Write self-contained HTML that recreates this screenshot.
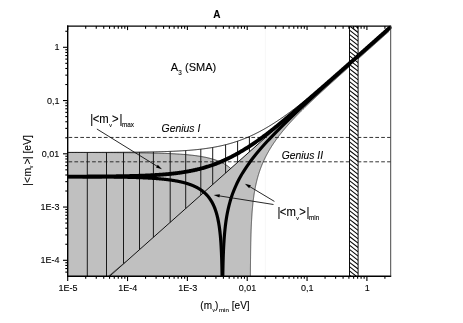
<!DOCTYPE html>
<html><head><meta charset="utf-8"><title>A</title>
<style>html,body{margin:0;padding:0;background:#fff;}body{width:463px;height:323px;overflow:hidden;font-family:"Liberation Sans",sans-serif;}svg{display:block;will-change:transform;}</style></head>
<body>
<svg width="463" height="323" viewBox="0 0 463 323">
<defs><clipPath id="pc"><rect x="67.70" y="25.10" width="324.20" height="251.20"/></clipPath><clipPath id="bc"><rect x="349.50" y="26.10" width="8.60" height="250.20"/></clipPath></defs>
<rect width="463" height="323" fill="#fff"/>
<line x1="265.3" y1="26.1" x2="265.3" y2="276.3" stroke="#f7f7f7" stroke-width="1"/>
<g clip-path="url(#pc)">
<path d="M67.70,276.30 L67.70,152.47 L67.70,152.47 L68.45,152.47 L69.20,152.48 L69.95,152.48 L70.70,152.48 L71.46,152.48 L72.21,152.48 L72.96,152.48 L73.71,152.48 L74.46,152.48 L75.21,152.48 L75.96,152.48 L76.71,152.48 L77.47,152.48 L78.22,152.49 L78.97,152.49 L79.72,152.49 L80.47,152.49 L81.22,152.49 L81.97,152.49 L82.72,152.49 L83.48,152.49 L84.23,152.49 L84.98,152.49 L85.73,152.50 L86.48,152.50 L87.23,152.50 L87.98,152.50 L88.73,152.50 L89.49,152.50 L90.24,152.50 L90.99,152.51 L91.74,152.51 L92.49,152.51 L93.24,152.51 L93.99,152.51 L94.74,152.51 L95.50,152.52 L96.25,152.52 L97.00,152.52 L97.75,152.52 L98.50,152.52 L99.25,152.53 L100.00,152.53 L100.75,152.53 L101.51,152.53 L102.26,152.54 L103.01,152.54 L103.76,152.54 L104.51,152.54 L105.26,152.55 L106.01,152.55 L106.76,152.55 L107.52,152.55 L108.27,152.56 L109.02,152.56 L109.77,152.56 L110.52,152.57 L111.27,152.57 L112.02,152.57 L112.77,152.58 L113.53,152.58 L114.28,152.58 L115.03,152.59 L115.78,152.59 L116.53,152.60 L117.28,152.60 L118.03,152.60 L118.78,152.61 L119.54,152.61 L120.29,152.62 L121.04,152.62 L121.79,152.63 L122.54,152.63 L123.29,152.64 L124.04,152.64 L124.79,152.65 L125.55,152.66 L126.30,152.66 L127.05,152.67 L127.80,152.67 L128.55,152.68 L129.30,152.69 L130.05,152.69 L130.80,152.70 L131.56,152.71 L132.31,152.72 L133.06,152.72 L133.81,152.73 L134.56,152.74 L135.31,152.75 L136.06,152.76 L136.81,152.77 L137.57,152.78 L138.32,152.79 L139.07,152.79 L139.82,152.81 L140.57,152.82 L141.32,152.83 L142.07,152.84 L142.82,152.85 L143.58,152.86 L144.33,152.87 L145.08,152.88 L145.83,152.90 L146.58,152.91 L147.33,152.92 L148.08,152.94 L148.83,152.95 L149.59,152.97 L150.34,152.98 L151.09,153.00 L151.84,153.01 L152.59,153.03 L153.34,153.05 L154.09,153.07 L154.84,153.08 L155.60,153.10 L156.35,153.12 L157.10,153.14 L157.85,153.16 L158.60,153.18 L159.35,153.21 L160.10,153.23 L160.85,153.25 L161.61,153.28 L162.36,153.30 L163.11,153.33 L163.86,153.35 L164.61,153.38 L165.36,153.41 L166.11,153.44 L166.86,153.47 L167.62,153.50 L168.37,153.53 L169.12,153.56 L169.87,153.59 L170.62,153.63 L171.37,153.66 L172.12,153.70 L172.87,153.74 L173.63,153.77 L174.38,153.81 L175.13,153.86 L175.88,153.90 L176.63,153.94 L177.38,153.99 L178.13,154.03 L178.88,154.08 L179.64,154.13 L180.39,154.18 L181.14,154.24 L181.89,154.29 L182.64,154.35 L183.39,154.40 L184.14,154.46 L184.89,154.53 L185.65,154.59 L186.40,154.65 L187.15,154.72 L187.90,154.79 L188.65,154.87 L189.40,154.94 L190.15,155.02 L190.90,155.10 L191.66,155.18 L192.41,155.26 L193.16,155.35 L193.91,155.44 L194.66,155.54 L195.41,155.63 L196.16,155.73 L196.91,155.84 L197.67,155.94 L198.42,156.06 L199.17,156.17 L199.92,156.29 L200.67,156.41 L201.42,156.54 L202.17,156.67 L202.92,156.81 L203.68,156.95 L204.43,157.09 L205.18,157.24 L205.93,157.40 L206.68,157.56 L207.43,157.73 L208.18,157.91 L208.93,158.09 L209.69,158.27 L210.44,158.47 L211.19,158.67 L211.94,158.88 L212.69,159.10 L213.44,159.33 L214.19,159.56 L214.94,159.81 L215.70,160.06 L216.45,160.33 L217.20,160.61 L217.95,160.90 L218.70,161.20 L219.45,161.51 L220.20,161.84 L220.95,162.18 L221.71,162.54 L222.46,162.91 L223.21,163.30 L223.96,163.71 L224.71,164.14 L225.46,164.59 L226.21,165.07 L226.96,165.56 L227.72,166.09 L228.47,166.64 L229.22,167.22 L229.97,167.83 L230.72,168.48 L384.88,31.30 L389.11,31.30 L388.54,31.80 L387.98,32.30 L387.42,32.80 L386.86,33.30 L386.30,33.80 L385.74,34.30 L385.17,34.80 L384.61,35.30 L384.05,35.80 L383.49,36.30 L382.93,36.80 L382.36,37.30 L381.80,37.80 L381.24,38.30 L380.68,38.80 L380.12,39.30 L379.56,39.80 L378.99,40.30 L378.43,40.80 L377.87,41.30 L377.31,41.80 L376.75,42.30 L376.19,42.80 L375.63,43.30 L375.06,43.80 L374.50,44.30 L373.94,44.80 L373.38,45.30 L372.82,45.80 L372.26,46.30 L371.69,46.80 L371.13,47.30 L370.57,47.80 L370.01,48.30 L369.45,48.80 L368.89,49.30 L368.33,49.80 L367.76,50.30 L367.20,50.80 L366.64,51.30 L366.08,51.80 L365.52,52.30 L364.96,52.80 L364.40,53.30 L363.84,53.80 L363.27,54.30 L362.71,54.80 L362.15,55.30 L361.59,55.80 L361.03,56.30 L360.47,56.80 L359.91,57.30 L359.35,57.80 L358.79,58.30 L358.22,58.80 L357.66,59.30 L357.10,59.80 L356.54,60.30 L355.98,60.80 L355.42,61.30 L354.86,61.80 L354.30,62.30 L353.74,62.80 L353.18,63.30 L352.62,63.80 L352.06,64.30 L351.50,64.80 L350.94,65.30 L350.38,65.80 L349.82,66.30 L349.26,66.80 L348.70,67.30 L348.14,67.80 L347.58,68.30 L347.02,68.80 L346.46,69.30 L345.90,69.80 L345.34,70.30 L344.78,70.80 L344.23,71.30 L343.67,71.80 L343.11,72.30 L342.55,72.80 L341.99,73.30 L341.43,73.80 L340.87,74.30 L340.32,74.80 L339.76,75.30 L339.20,75.80 L338.64,76.30 L338.09,76.80 L337.53,77.30 L336.97,77.80 L336.42,78.30 L335.86,78.80 L335.31,79.30 L334.75,79.80 L334.19,80.30 L333.64,80.80 L333.08,81.30 L332.53,81.80 L331.97,82.30 L331.42,82.80 L330.87,83.30 L330.31,83.80 L329.76,84.30 L329.21,84.80 L328.66,85.30 L328.10,85.80 L327.55,86.30 L327.00,86.80 L326.45,87.30 L325.90,87.80 L325.35,88.30 L324.80,88.80 L324.25,89.30 L323.70,89.80 L323.16,90.30 L322.61,90.80 L322.06,91.30 L321.52,91.80 L320.97,92.30 L320.43,92.80 L319.88,93.30 L319.34,93.80 L318.80,94.30 L318.26,94.80 L317.71,95.30 L317.17,95.80 L316.63,96.30 L316.10,96.80 L315.56,97.30 L315.02,97.80 L314.48,98.30 L313.95,98.80 L313.42,99.30 L312.88,99.80 L312.35,100.30 L311.82,100.80 L311.29,101.30 L310.76,101.80 L310.23,102.30 L309.71,102.80 L309.18,103.30 L308.66,103.80 L308.13,104.30 L307.61,104.80 L307.09,105.30 L306.57,105.80 L306.06,106.30 L305.54,106.80 L305.02,107.30 L304.51,107.80 L304.00,108.30 L303.49,108.80 L302.98,109.30 L302.47,109.80 L301.97,110.30 L301.46,110.80 L300.96,111.30 L300.46,111.80 L299.96,112.30 L299.47,112.80 L298.97,113.30 L298.48,113.80 L297.99,114.30 L297.50,114.80 L297.01,115.30 L296.53,115.80 L296.04,116.30 L295.56,116.80 L295.08,117.30 L294.60,117.80 L294.13,118.30 L293.66,118.80 L293.19,119.30 L292.72,119.80 L292.25,120.30 L291.79,120.80 L291.32,121.30 L290.87,121.80 L290.41,122.30 L289.95,122.80 L289.50,123.30 L289.05,123.80 L288.60,124.30 L288.16,124.80 L287.72,125.30 L287.28,125.80 L286.84,126.30 L286.40,126.80 L285.97,127.30 L285.54,127.80 L285.11,128.30 L284.69,128.80 L284.27,129.30 L283.85,129.80 L283.43,130.30 L283.02,130.80 L282.61,131.30 L282.20,131.80 L281.79,132.30 L281.39,132.80 L280.99,133.30 L280.60,133.80 L280.20,134.30 L279.81,134.80 L279.42,135.30 L279.04,135.80 L278.65,136.30 L278.28,136.80 L277.90,137.30 L277.53,137.80 L277.16,138.30 L276.79,138.80 L276.42,139.30 L276.06,139.80 L275.70,140.30 L275.35,140.80 L275.00,141.30 L274.65,141.80 L274.30,142.30 L273.96,142.80 L273.62,143.30 L273.28,143.80 L272.95,144.30 L272.62,144.80 L272.29,145.30 L271.97,145.80 L271.65,146.30 L271.33,146.80 L271.02,147.30 L270.70,147.80 L270.40,148.30 L270.09,148.80 L269.79,149.30 L269.49,149.80 L269.20,150.30 L268.90,150.80 L268.61,151.30 L268.33,151.80 L268.05,152.30 L267.77,152.80 L267.49,153.30 L267.22,153.80 L266.95,154.30 L266.68,154.80 L266.42,155.30 L266.16,155.80 L265.90,156.30 L265.64,156.80 L265.39,157.30 L265.14,157.80 L264.90,158.30 L264.66,158.80 L264.42,159.30 L264.18,159.80 L263.95,160.30 L263.72,160.80 L263.49,161.30 L263.27,161.80 L263.05,162.30 L262.83,162.80 L262.61,163.30 L262.40,163.80 L262.19,164.30 L261.98,164.80 L261.78,165.30 L261.58,165.80 L261.38,166.30 L261.19,166.80 L261.00,167.30 L260.81,167.80 L260.62,168.30 L260.44,168.80 L260.25,169.30 L260.08,169.80 L259.90,170.30 L259.73,170.80 L259.56,171.30 L259.39,171.80 L259.22,172.30 L259.06,172.80 L258.90,173.30 L258.74,173.80 L258.58,174.30 L258.43,174.80 L258.28,175.30 L258.13,175.80 L257.99,176.30 L257.84,176.80 L257.70,177.30 L257.56,177.80 L257.43,178.30 L257.29,178.80 L257.16,179.30 L257.03,179.80 L256.90,180.30 L256.78,180.80 L256.65,181.30 L256.53,181.80 L256.41,182.30 L256.30,182.80 L256.18,183.30 L256.07,183.80 L255.96,184.30 L255.85,184.80 L255.74,185.30 L255.63,185.80 L255.53,186.30 L255.43,186.80 L255.33,187.30 L255.23,187.80 L255.13,188.30 L255.04,188.80 L254.94,189.30 L254.85,189.80 L254.76,190.30 L254.67,190.80 L254.59,191.30 L254.50,191.80 L254.42,192.30 L254.34,192.80 L254.26,193.30 L254.18,193.80 L254.10,194.30 L254.02,194.80 L253.95,195.30 L253.87,195.80 L253.80,196.30 L253.73,196.80 L253.66,197.30 L253.59,197.80 L253.53,198.30 L253.46,198.80 L253.40,199.30 L253.34,199.80 L253.27,200.30 L253.21,200.80 L253.15,201.30 L253.10,201.80 L253.04,202.30 L252.98,202.80 L252.93,203.30 L252.87,203.80 L252.82,204.30 L252.77,204.80 L252.72,205.30 L252.67,205.80 L252.62,206.30 L252.57,206.80 L252.53,207.30 L252.48,207.80 L252.43,208.30 L252.39,208.80 L252.35,209.30 L252.30,209.80 L252.26,210.30 L252.22,210.80 L252.18,211.30 L252.14,211.80 L252.10,212.30 L252.07,212.80 L252.03,213.30 L251.99,213.80 L251.96,214.30 L251.92,214.80 L251.89,215.30 L251.86,215.80 L251.82,216.30 L251.79,216.80 L251.76,217.30 L251.73,217.80 L251.70,218.30 L251.67,218.80 L251.64,219.30 L251.61,219.80 L251.58,220.30 L251.56,220.80 L251.53,221.30 L251.50,221.80 L251.48,222.30 L251.45,222.80 L251.43,223.30 L251.41,223.80 L251.38,224.30 L251.36,224.80 L251.34,225.30 L251.31,225.80 L251.29,226.30 L251.27,226.80 L251.25,227.30 L251.23,227.80 L251.21,228.30 L251.19,228.80 L251.17,229.30 L251.15,229.80 L251.14,230.30 L251.12,230.80 L251.10,231.30 L251.08,231.80 L251.07,232.30 L251.05,232.80 L251.03,233.30 L251.02,233.80 L251.00,234.30 L250.99,234.80 L250.97,235.30 L250.96,235.80 L250.94,236.30 L250.93,236.80 L250.92,237.30 L250.90,237.80 L250.89,238.30 L250.88,238.80 L250.86,239.30 L250.85,239.80 L250.84,240.30 L250.83,240.80 L250.82,241.30 L250.81,241.80 L250.79,242.30 L250.78,242.80 L250.77,243.30 L250.76,243.80 L250.75,244.30 L250.74,244.80 L250.73,245.30 L250.72,245.80 L250.71,246.30 L250.70,246.80 L250.70,247.30 L250.69,247.80 L250.68,248.30 L250.67,248.80 L250.66,249.30 L250.65,249.80 L250.65,250.30 L250.64,250.80 L250.63,251.30 L250.62,251.80 L250.62,252.30 L250.61,252.80 L250.60,253.30 L250.60,253.80 L250.59,254.30 L250.58,254.80 L250.58,255.30 L250.57,255.80 L250.56,256.30 L250.56,256.80 L250.55,257.30 L250.55,257.80 L250.54,258.30 L250.54,258.80 L250.53,259.30 L250.53,259.80 L250.52,260.30 L250.51,260.80 L250.51,261.30 L250.51,261.80 L250.50,262.30 L250.50,262.80 L250.49,263.30 L250.49,263.80 L250.48,264.30 L250.48,264.80 L250.47,265.30 L250.47,265.80 L250.47,266.30 L250.46,266.80 L250.46,267.30 L250.45,267.80 L250.45,268.30 L250.45,268.80 L250.44,269.30 L250.44,269.80 L250.44,270.30 L250.43,270.80 L250.43,271.30 L250.43,271.80 L250.42,272.30 L250.42,272.80 L250.42,273.30 L250.42,273.80 L250.41,274.30 L250.41,274.80 L250.41,275.30 L250.41,275.80 L250.40,276.30 L250.40,276.30Z" fill="#c0c0c0" stroke="none"/>
<path d="M67.70,152.47 L68.45,152.47 L69.20,152.48 L69.95,152.48 L70.70,152.48 L71.46,152.48 L72.21,152.48 L72.96,152.48 L73.71,152.48 L74.46,152.48 L75.21,152.48 L75.96,152.48 L76.71,152.48 L77.47,152.48 L78.22,152.49 L78.97,152.49 L79.72,152.49 L80.47,152.49 L81.22,152.49 L81.97,152.49 L82.72,152.49 L83.48,152.49 L84.23,152.49 L84.98,152.49 L85.73,152.50 L86.48,152.50 L87.23,152.50 L87.98,152.50 L88.73,152.50 L89.49,152.50 L90.24,152.50 L90.99,152.51 L91.74,152.51 L92.49,152.51 L93.24,152.51 L93.99,152.51 L94.74,152.51 L95.50,152.52 L96.25,152.52 L97.00,152.52 L97.75,152.52 L98.50,152.52 L99.25,152.53 L100.00,152.53 L100.75,152.53 L101.51,152.53 L102.26,152.54 L103.01,152.54 L103.76,152.54 L104.51,152.54 L105.26,152.55 L106.01,152.55 L106.76,152.55 L107.52,152.55 L108.27,152.56 L109.02,152.56 L109.77,152.56 L110.52,152.57 L111.27,152.57 L112.02,152.57 L112.77,152.58 L113.53,152.58 L114.28,152.58 L115.03,152.59 L115.78,152.59 L116.53,152.60 L117.28,152.60 L118.03,152.60 L118.78,152.61 L119.54,152.61 L120.29,152.62 L121.04,152.62 L121.79,152.63 L122.54,152.63 L123.29,152.64 L124.04,152.64 L124.79,152.65 L125.55,152.66 L126.30,152.66 L127.05,152.67 L127.80,152.67 L128.55,152.68 L129.30,152.69 L130.05,152.69 L130.80,152.70 L131.56,152.71 L132.31,152.72 L133.06,152.72 L133.81,152.73 L134.56,152.74 L135.31,152.75 L136.06,152.76 L136.81,152.77 L137.57,152.78 L138.32,152.79 L139.07,152.79 L139.82,152.81 L140.57,152.82 L141.32,152.83 L142.07,152.84 L142.82,152.85 L143.58,152.86 L144.33,152.87 L145.08,152.88 L145.83,152.90 L146.58,152.91 L147.33,152.92 L148.08,152.94 L148.83,152.95 L149.59,152.97 L150.34,152.98 L151.09,153.00 L151.84,153.01 L152.59,153.03 L153.34,153.05 L154.09,153.07 L154.84,153.08 L155.60,153.10 L156.35,153.12 L157.10,153.14 L157.85,153.16 L158.60,153.18 L159.35,153.21 L160.10,153.23 L160.85,153.25 L161.61,153.28 L162.36,153.30 L163.11,153.33 L163.86,153.35 L164.61,153.38 L165.36,153.41 L166.11,153.44 L166.86,153.47 L167.62,153.50 L168.37,153.53 L169.12,153.56 L169.87,153.59 L170.62,153.63 L171.37,153.66 L172.12,153.70 L172.87,153.74 L173.63,153.77 L174.38,153.81 L175.13,153.86 L175.88,153.90 L176.63,153.94 L177.38,153.99 L178.13,154.03 L178.88,154.08 L179.64,154.13 L180.39,154.18 L181.14,154.24 L181.89,154.29 L182.64,154.35 L183.39,154.40 L184.14,154.46 L184.89,154.53 L185.65,154.59 L186.40,154.65 L187.15,154.72 L187.90,154.79 L188.65,154.87 L189.40,154.94 L190.15,155.02 L190.90,155.10 L191.66,155.18 L192.41,155.26 L193.16,155.35 L193.91,155.44 L194.66,155.54 L195.41,155.63 L196.16,155.73 L196.91,155.84 L197.67,155.94 L198.42,156.06 L199.17,156.17 L199.92,156.29 L200.67,156.41 L201.42,156.54 L202.17,156.67 L202.92,156.81 L203.68,156.95 L204.43,157.09 L205.18,157.24 L205.93,157.40 L206.68,157.56 L207.43,157.73 L208.18,157.91 L208.93,158.09 L209.69,158.27 L210.44,158.47 L211.19,158.67 L211.94,158.88 L212.69,159.10 L213.44,159.33 L214.19,159.56 L214.94,159.81 L215.70,160.06 L216.45,160.33 L217.20,160.61 L217.95,160.90 L218.70,161.20 L219.45,161.51 L220.20,161.84 L220.95,162.18 L221.71,162.54 L222.46,162.91 L223.21,163.30 L223.96,163.71 L224.71,164.14 L225.46,164.59 L226.21,165.07 L226.96,165.56 L227.72,166.09 L228.47,166.64 L229.22,167.22 L229.97,167.83 L230.72,168.48" fill="none" stroke="#222" stroke-width="0.8"/>
<path d="M250.40,276.30 L250.41,275.80 L250.41,275.30 L250.41,274.80 L250.41,274.30 L250.42,273.80 L250.42,273.30 L250.42,272.80 L250.42,272.30 L250.43,271.80 L250.43,271.30 L250.43,270.80 L250.44,270.30 L250.44,269.80 L250.44,269.30 L250.45,268.80 L250.45,268.30 L250.45,267.80 L250.46,267.30 L250.46,266.80 L250.47,266.30 L250.47,265.80 L250.47,265.30 L250.48,264.80 L250.48,264.30 L250.49,263.80 L250.49,263.30 L250.50,262.80 L250.50,262.30 L250.51,261.80 L250.51,261.30 L250.51,260.80 L250.52,260.30 L250.53,259.80 L250.53,259.30 L250.54,258.80 L250.54,258.30 L250.55,257.80 L250.55,257.30 L250.56,256.80 L250.56,256.30 L250.57,255.80 L250.58,255.30 L250.58,254.80 L250.59,254.30 L250.60,253.80 L250.60,253.30 L250.61,252.80 L250.62,252.30 L250.62,251.80 L250.63,251.30 L250.64,250.80 L250.65,250.30 L250.65,249.80 L250.66,249.30 L250.67,248.80 L250.68,248.30 L250.69,247.80 L250.70,247.30 L250.70,246.80 L250.71,246.30 L250.72,245.80 L250.73,245.30 L250.74,244.80 L250.75,244.30 L250.76,243.80 L250.77,243.30 L250.78,242.80 L250.79,242.30 L250.81,241.80 L250.82,241.30 L250.83,240.80 L250.84,240.30 L250.85,239.80 L250.86,239.30 L250.88,238.80 L250.89,238.30 L250.90,237.80 L250.92,237.30 L250.93,236.80 L250.94,236.30 L250.96,235.80 L250.97,235.30 L250.99,234.80 L251.00,234.30 L251.02,233.80 L251.03,233.30 L251.05,232.80 L251.07,232.30 L251.08,231.80 L251.10,231.30 L251.12,230.80 L251.14,230.30 L251.15,229.80 L251.17,229.30 L251.19,228.80 L251.21,228.30 L251.23,227.80 L251.25,227.30 L251.27,226.80 L251.29,226.30 L251.31,225.80 L251.34,225.30 L251.36,224.80 L251.38,224.30 L251.41,223.80 L251.43,223.30 L251.45,222.80 L251.48,222.30 L251.50,221.80 L251.53,221.30 L251.56,220.80 L251.58,220.30 L251.61,219.80 L251.64,219.30 L251.67,218.80 L251.70,218.30 L251.73,217.80 L251.76,217.30 L251.79,216.80 L251.82,216.30 L251.86,215.80 L251.89,215.30 L251.92,214.80 L251.96,214.30 L251.99,213.80 L252.03,213.30 L252.07,212.80 L252.10,212.30 L252.14,211.80 L252.18,211.30 L252.22,210.80 L252.26,210.30 L252.30,209.80 L252.35,209.30 L252.39,208.80 L252.43,208.30 L252.48,207.80 L252.53,207.30 L252.57,206.80 L252.62,206.30 L252.67,205.80 L252.72,205.30 L252.77,204.80 L252.82,204.30 L252.87,203.80 L252.93,203.30 L252.98,202.80 L253.04,202.30 L253.10,201.80 L253.15,201.30 L253.21,200.80 L253.27,200.30 L253.34,199.80 L253.40,199.30 L253.46,198.80 L253.53,198.30 L253.59,197.80 L253.66,197.30 L253.73,196.80 L253.80,196.30 L253.87,195.80 L253.95,195.30 L254.02,194.80 L254.10,194.30 L254.18,193.80 L254.26,193.30 L254.34,192.80 L254.42,192.30 L254.50,191.80 L254.59,191.30 L254.67,190.80 L254.76,190.30 L254.85,189.80 L254.94,189.30 L255.04,188.80 L255.13,188.30 L255.23,187.80 L255.33,187.30 L255.43,186.80 L255.53,186.30 L255.63,185.80 L255.74,185.30 L255.85,184.80 L255.96,184.30 L256.07,183.80 L256.18,183.30 L256.30,182.80 L256.41,182.30 L256.53,181.80 L256.65,181.30 L256.78,180.80 L256.90,180.30 L257.03,179.80 L257.16,179.30 L257.29,178.80 L257.43,178.30 L257.56,177.80 L257.70,177.30 L257.84,176.80 L257.99,176.30 L258.13,175.80 L258.28,175.30 L258.43,174.80 L258.58,174.30 L258.74,173.80 L258.90,173.30 L259.06,172.80 L259.22,172.30 L259.39,171.80 L259.56,171.30 L259.73,170.80 L259.90,170.30 L260.08,169.80 L260.25,169.30 L260.44,168.80 L260.62,168.30 L260.81,167.80 L261.00,167.30 L261.19,166.80 L261.38,166.30 L261.58,165.80 L261.78,165.30 L261.98,164.80 L262.19,164.30 L262.40,163.80 L262.61,163.30 L262.83,162.80 L263.05,162.30 L263.27,161.80 L263.49,161.30 L263.72,160.80 L263.95,160.30 L264.18,159.80 L264.42,159.30 L264.66,158.80 L264.90,158.30 L265.14,157.80 L265.39,157.30 L265.64,156.80 L265.90,156.30 L266.16,155.80 L266.42,155.30 L266.68,154.80 L266.95,154.30 L267.22,153.80 L267.49,153.30 L267.77,152.80 L268.05,152.30 L268.33,151.80 L268.61,151.30 L268.90,150.80 L269.20,150.30 L269.49,149.80 L269.79,149.30 L270.09,148.80 L270.40,148.30 L270.70,147.80 L271.02,147.30 L271.33,146.80 L271.65,146.30 L271.97,145.80 L272.29,145.30 L272.62,144.80 L272.95,144.30 L273.28,143.80 L273.62,143.30 L273.96,142.80 L274.30,142.30 L274.65,141.80 L275.00,141.30 L275.35,140.80 L275.70,140.30 L276.06,139.80 L276.42,139.30 L276.79,138.80 L277.16,138.30 L277.53,137.80 L277.90,137.30 L278.28,136.80 L278.65,136.30 L279.04,135.80 L279.42,135.30 L279.81,134.80 L280.20,134.30 L280.60,133.80 L280.99,133.30 L281.39,132.80 L281.79,132.30 L282.20,131.80 L282.61,131.30 L283.02,130.80 L283.43,130.30 L283.85,129.80 L284.27,129.30 L284.69,128.80 L285.11,128.30 L285.54,127.80 L285.97,127.30 L286.40,126.80 L286.84,126.30 L287.28,125.80 L287.72,125.30 L288.16,124.80 L288.60,124.30 L289.05,123.80 L289.50,123.30 L289.95,122.80 L290.41,122.30 L290.87,121.80 L291.32,121.30 L291.79,120.80 L292.25,120.30 L292.72,119.80 L293.19,119.30 L293.66,118.80 L294.13,118.30 L294.60,117.80 L295.08,117.30 L295.56,116.80 L296.04,116.30 L296.53,115.80 L297.01,115.30 L297.50,114.80 L297.99,114.30 L298.48,113.80 L298.97,113.30 L299.47,112.80 L299.96,112.30 L300.46,111.80 L300.96,111.30 L301.46,110.80 L301.97,110.30 L302.47,109.80 L302.98,109.30 L303.49,108.80 L304.00,108.30 L304.51,107.80 L305.02,107.30 L305.54,106.80 L306.06,106.30 L306.57,105.80 L307.09,105.30 L307.61,104.80 L308.13,104.30 L308.66,103.80 L309.18,103.30 L309.71,102.80 L310.23,102.30 L310.76,101.80 L311.29,101.30 L311.82,100.80 L312.35,100.30 L312.88,99.80 L313.42,99.30 L313.95,98.80 L314.48,98.30 L315.02,97.80 L315.56,97.30 L316.10,96.80 L316.63,96.30 L317.17,95.80 L317.71,95.30 L318.26,94.80 L318.80,94.30 L319.34,93.80 L319.88,93.30 L320.43,92.80 L320.97,92.30 L321.52,91.80 L322.06,91.30 L322.61,90.80 L323.16,90.30 L323.70,89.80 L324.25,89.30 L324.80,88.80 L325.35,88.30 L325.90,87.80 L326.45,87.30 L327.00,86.80 L327.55,86.30 L328.10,85.80 L328.66,85.30 L329.21,84.80 L329.76,84.30 L330.31,83.80 L330.87,83.30 L331.42,82.80 L331.97,82.30 L332.53,81.80 L333.08,81.30 L333.64,80.80 L334.19,80.30 L334.75,79.80 L335.31,79.30 L335.86,78.80 L336.42,78.30 L336.97,77.80 L337.53,77.30 L338.09,76.80 L338.64,76.30 L339.20,75.80 L339.76,75.30 L340.32,74.80 L340.87,74.30 L341.43,73.80 L341.99,73.30 L342.55,72.80 L343.11,72.30 L343.67,71.80 L344.23,71.30 L344.78,70.80 L345.34,70.30 L345.90,69.80 L346.46,69.30 L347.02,68.80 L347.58,68.30 L348.14,67.80 L348.70,67.30 L349.26,66.80 L349.82,66.30 L350.38,65.80 L350.94,65.30 L351.50,64.80 L352.06,64.30 L352.62,63.80 L353.18,63.30 L353.74,62.80 L354.30,62.30 L354.86,61.80 L355.42,61.30 L355.98,60.80 L356.54,60.30 L357.10,59.80 L357.66,59.30 L358.22,58.80 L358.79,58.30 L359.35,57.80 L359.91,57.30 L360.47,56.80 L361.03,56.30 L361.59,55.80 L362.15,55.30 L362.71,54.80 L363.27,54.30 L363.84,53.80 L364.40,53.30 L364.96,52.80 L365.52,52.30 L366.08,51.80 L366.64,51.30 L367.20,50.80 L367.76,50.30 L368.33,49.80 L368.89,49.30 L369.45,48.80 L370.01,48.30 L370.57,47.80 L371.13,47.30 L371.69,46.80 L372.26,46.30 L372.82,45.80 L373.38,45.30 L373.94,44.80 L374.50,44.30 L375.06,43.80 L375.63,43.30 L376.19,42.80 L376.75,42.30 L377.31,41.80 L377.87,41.30 L378.43,40.80 L378.99,40.30 L379.56,39.80 L380.12,39.30 L380.68,38.80 L381.24,38.30 L381.80,37.80 L382.36,37.30 L382.93,36.80 L383.49,36.30 L384.05,35.80 L384.61,35.30 L385.17,34.80 L385.74,34.30 L386.30,33.80 L386.86,33.30 L387.42,32.80 L387.98,32.30 L388.54,31.80 L389.11,31.30" fill="none" stroke="#333" stroke-width="0.8"/>
<line x1="87.30" y1="152.41" x2="87.30" y2="276.30" stroke="#1a1a1a" stroke-width="1"/>
<line x1="106.50" y1="152.36" x2="106.50" y2="276.30" stroke="#1a1a1a" stroke-width="1"/>
<line x1="123.50" y1="152.27" x2="123.50" y2="263.90" stroke="#1a1a1a" stroke-width="1"/>
<line x1="139.50" y1="152.12" x2="139.50" y2="249.66" stroke="#1a1a1a" stroke-width="1"/>
<line x1="153.40" y1="151.89" x2="153.40" y2="237.29" stroke="#1a1a1a" stroke-width="1"/>
<line x1="170.20" y1="151.39" x2="170.20" y2="222.34" stroke="#1a1a1a" stroke-width="1"/>
<line x1="185.70" y1="150.56" x2="185.70" y2="208.54" stroke="#1a1a1a" stroke-width="1"/>
<line x1="200.80" y1="149.17" x2="200.80" y2="195.11" stroke="#1a1a1a" stroke-width="1"/>
<line x1="212.70" y1="147.46" x2="212.70" y2="184.52" stroke="#1a1a1a" stroke-width="1"/>
<line x1="225.60" y1="144.73" x2="225.60" y2="173.04" stroke="#1a1a1a" stroke-width="1"/>
<line x1="237.60" y1="141.17" x2="237.60" y2="162.36" stroke="#1a1a1a" stroke-width="1"/>
<line x1="249.40" y1="136.54" x2="249.40" y2="151.86" stroke="#1a1a1a" stroke-width="1"/>
<path d="M67.70,152.43 L68.45,152.43 L69.20,152.43 L69.95,152.43 L70.70,152.43 L71.45,152.43 L72.20,152.43 L72.95,152.43 L73.70,152.43 L74.44,152.43 L75.19,152.42 L75.94,152.42 L76.69,152.42 L77.44,152.42 L78.19,152.42 L78.94,152.42 L79.69,152.42 L80.44,152.42 L81.19,152.42 L81.94,152.42 L82.69,152.42 L83.44,152.41 L84.19,152.41 L84.94,152.41 L85.69,152.41 L86.44,152.41 L87.19,152.41 L87.93,152.41 L88.68,152.41 L89.43,152.40 L90.18,152.40 L90.93,152.40 L91.68,152.40 L92.43,152.40 L93.18,152.40 L93.93,152.39 L94.68,152.39 L95.43,152.39 L96.18,152.39 L96.93,152.39 L97.68,152.39 L98.43,152.38 L99.18,152.38 L99.93,152.38 L100.67,152.38 L101.42,152.38 L102.17,152.37 L102.92,152.37 L103.67,152.37 L104.42,152.37 L105.17,152.36 L105.92,152.36 L106.67,152.36 L107.42,152.36 L108.17,152.35 L108.92,152.35 L109.67,152.35 L110.42,152.34 L111.17,152.34 L111.92,152.34 L112.67,152.33 L113.42,152.33 L114.16,152.33 L114.91,152.32 L115.66,152.32 L116.41,152.32 L117.16,152.31 L117.91,152.31 L118.66,152.30 L119.41,152.30 L120.16,152.29 L120.91,152.29 L121.66,152.29 L122.41,152.28 L123.16,152.28 L123.91,152.27 L124.66,152.26 L125.41,152.26 L126.16,152.25 L126.90,152.25 L127.65,152.24 L128.40,152.24 L129.15,152.23 L129.90,152.22 L130.65,152.22 L131.40,152.21 L132.15,152.20 L132.90,152.20 L133.65,152.19 L134.40,152.18 L135.15,152.17 L135.90,152.16 L136.65,152.16 L137.40,152.15 L138.15,152.14 L138.90,152.13 L139.65,152.12 L140.39,152.11 L141.14,152.10 L141.89,152.09 L142.64,152.08 L143.39,152.07 L144.14,152.06 L144.89,152.05 L145.64,152.03 L146.39,152.02 L147.14,152.01 L147.89,152.00 L148.64,151.98 L149.39,151.97 L150.14,151.96 L150.89,151.94 L151.64,151.93 L152.39,151.91 L153.13,151.90 L153.88,151.88 L154.63,151.86 L155.38,151.85 L156.13,151.83 L156.88,151.81 L157.63,151.79 L158.38,151.77 L159.13,151.75 L159.88,151.73 L160.63,151.71 L161.38,151.69 L162.13,151.67 L162.88,151.65 L163.63,151.62 L164.38,151.60 L165.13,151.58 L165.88,151.55 L166.62,151.52 L167.37,151.50 L168.12,151.47 L168.87,151.44 L169.62,151.41 L170.37,151.38 L171.12,151.35 L171.87,151.32 L172.62,151.29 L173.37,151.26 L174.12,151.22 L174.87,151.19 L175.62,151.15 L176.37,151.11 L177.12,151.08 L177.87,151.04 L178.62,151.00 L179.36,150.96 L180.11,150.91 L180.86,150.87 L181.61,150.82 L182.36,150.78 L183.11,150.73 L183.86,150.68 L184.61,150.63 L185.36,150.58 L186.11,150.53 L186.86,150.48 L187.61,150.42 L188.36,150.36 L189.11,150.31 L189.86,150.25 L190.61,150.18 L191.36,150.12 L192.11,150.06 L192.85,149.99 L193.60,149.92 L194.35,149.85 L195.10,149.78 L195.85,149.71 L196.60,149.63 L197.35,149.55 L198.10,149.47 L198.85,149.39 L199.60,149.31 L200.35,149.22 L201.10,149.13 L201.85,149.04 L202.60,148.95 L203.35,148.86 L204.10,148.76 L204.85,148.66 L205.59,148.56 L206.34,148.45 L207.09,148.34 L207.84,148.23 L208.59,148.12 L209.34,148.01 L210.09,147.89 L210.84,147.77 L211.59,147.64 L212.34,147.52 L213.09,147.39 L213.84,147.26 L214.59,147.12 L215.34,146.98 L216.09,146.84 L216.84,146.69 L217.59,146.54 L218.34,146.39 L219.08,146.24 L219.83,146.08 L220.58,145.92 L221.33,145.75 L222.08,145.58 L222.83,145.41 L223.58,145.23 L224.33,145.05 L225.08,144.86 L225.83,144.68 L226.58,144.48 L227.33,144.29 L228.08,144.09 L228.83,143.88 L229.58,143.67 L230.33,143.46 L231.08,143.24 L231.82,143.02 L232.57,142.80 L233.32,142.57 L234.07,142.33 L234.82,142.09 L235.57,141.85 L236.32,141.60 L237.07,141.35 L237.82,141.10 L238.57,140.83 L239.32,140.57 L240.07,140.30 L240.82,140.02 L241.57,139.74 L242.32,139.46 L243.07,139.17 L243.82,138.88 L244.57,138.58 L245.31,138.28 L246.06,137.97 L246.81,137.65 L247.56,137.34 L248.31,137.01 L249.06,136.69 L249.81,136.36 L250.56,136.02 L251.31,135.68 L252.06,135.33 L252.81,134.98 L253.56,134.62 L254.31,134.26 L255.06,133.90 L255.81,133.53 L256.56,133.15 L257.31,132.77 L258.05,132.39 L258.80,132.00 L259.55,131.60 L260.30,131.21 L261.05,130.80 L261.80,130.39 L262.55,129.98 L263.30,129.57 L264.05,129.14 L264.80,128.72 L265.55,128.29 L266.30,127.85 L267.05,127.42 L267.80,126.97 L268.55,126.52 L269.30,126.07 L270.05,125.62 L270.80,125.16 L271.54,124.69 L272.29,124.23 L273.04,123.75 L273.79,123.28 L274.54,122.80 L275.29,122.31 L276.04,121.83 L276.79,121.33 L277.54,120.84 L278.29,120.34 L279.04,119.84 L279.79,119.33 L280.54,118.82 L281.29,118.31 L282.04,117.79 L282.79,117.27 L283.54,116.75 L284.28,116.23 L285.03,115.70 L285.78,115.16 L286.53,114.63 L287.28,114.09 L288.03,113.55 L288.78,113.00 L289.53,112.46 L290.28,111.91 L291.03,111.35 L291.78,110.80 L292.53,110.24 L293.28,109.68 L294.03,109.12 L294.78,108.55 L295.53,107.98 L296.28,107.41 L297.03,106.84 L297.77,106.26 L298.52,105.69 L299.27,105.11 L300.02,104.52 L300.77,103.94 L301.52,103.35 L302.27,102.77 L303.02,102.18 L303.77,101.58 L304.52,100.99 L305.27,100.39 L306.02,99.80 L306.77,99.20 L307.52,98.60 L308.27,97.99 L309.02,97.39 L309.77,96.78 L310.51,96.18 L311.26,95.57 L312.01,94.96 L312.76,94.34 L313.51,93.73 L314.26,93.12 L315.01,92.50 L315.76,91.88 L316.51,91.26 L317.26,90.64 L318.01,90.02 L318.76,89.40 L319.51,88.77 L320.26,88.15 L321.01,87.52 L321.76,86.90 L322.51,86.27 L323.26,85.64 L324.00,85.01 L324.75,84.38 L325.50,83.74 L326.25,83.11 L327.00,82.48 L327.75,81.84 L328.50,81.21 L329.25,80.57 L330.00,79.93" fill="none" stroke="#111" stroke-width="0.9"/>
<path d="M109.56,276.30 L390.71,26.11" fill="none" stroke="#111" stroke-width="1"/>
<line x1="108.3" y1="276.3" x2="125.5" y2="261.9" stroke="#333" stroke-width="0.7"/>
<line x1="67.70" y1="137.45" x2="390.70" y2="137.45" stroke="#1a1a1a" stroke-width="0.88" stroke-dasharray="3.7 2.2" stroke-dashoffset="5.1"/>
<line x1="67.70" y1="161.80" x2="390.70" y2="161.80" stroke="#1a1a1a" stroke-width="0.88" stroke-dasharray="3.7 2.2" stroke-dashoffset="5.1"/>
<path d="M67.70,176.73 L67.95,176.73 L68.20,176.73 L68.45,176.73 L68.70,176.73 L68.95,176.73 L69.20,176.73 L69.45,176.73 L69.70,176.73 L69.95,176.73 L70.20,176.73 L70.45,176.74 L70.70,176.74 L70.95,176.74 L71.20,176.74 L71.45,176.74 L71.70,176.74 L71.95,176.74 L72.20,176.74 L72.45,176.74 L72.70,176.74 L72.95,176.74 L73.20,176.74 L73.45,176.74 L73.70,176.74 L73.95,176.75 L74.20,176.75 L74.45,176.75 L74.70,176.75 L74.95,176.75 L75.20,176.75 L75.45,176.75 L75.70,176.75 L75.95,176.75 L76.20,176.75 L76.45,176.75 L76.70,176.75 L76.95,176.75 L77.20,176.76 L77.45,176.76 L77.70,176.76 L77.95,176.76 L78.20,176.76 L78.45,176.76 L78.70,176.76 L78.95,176.76 L79.20,176.76 L79.45,176.76 L79.70,176.76 L79.95,176.76 L80.20,176.77 L80.45,176.77 L80.70,176.77 L80.95,176.77 L81.20,176.77 L81.45,176.77 L81.70,176.77 L81.95,176.77 L82.20,176.77 L82.45,176.77 L82.70,176.78 L82.95,176.78 L83.20,176.78 L83.45,176.78 L83.70,176.78 L83.95,176.78 L84.20,176.78 L84.45,176.78 L84.70,176.78 L84.95,176.79 L85.20,176.79 L85.45,176.79 L85.70,176.79 L85.95,176.79 L86.20,176.79 L86.45,176.79 L86.70,176.79 L86.95,176.79 L87.20,176.80 L87.45,176.80 L87.70,176.80 L87.95,176.80 L88.20,176.80 L88.45,176.80 L88.70,176.80 L88.95,176.80 L89.20,176.81 L89.45,176.81 L89.70,176.81 L89.95,176.81 L90.20,176.81 L90.45,176.81 L90.70,176.81 L90.95,176.82 L91.20,176.82 L91.45,176.82 L91.70,176.82 L91.95,176.82 L92.20,176.82 L92.45,176.82 L92.70,176.83 L92.95,176.83 L93.20,176.83 L93.45,176.83 L93.70,176.83 L93.95,176.83 L94.20,176.84 L94.45,176.84 L94.70,176.84 L94.95,176.84 L95.20,176.84 L95.45,176.84 L95.70,176.85 L95.95,176.85 L96.20,176.85 L96.45,176.85 L96.70,176.85 L96.95,176.85 L97.20,176.86 L97.45,176.86 L97.70,176.86 L97.95,176.86 L98.20,176.86 L98.45,176.87 L98.70,176.87 L98.95,176.87 L99.20,176.87 L99.45,176.87 L99.70,176.87 L99.95,176.88 L100.20,176.88 L100.45,176.88 L100.70,176.88 L100.95,176.89 L101.20,176.89 L101.45,176.89 L101.69,176.89 L101.94,176.89 L102.19,176.90 L102.44,176.90 L102.69,176.90 L102.94,176.90 L103.19,176.90 L103.44,176.91 L103.69,176.91 L103.94,176.91 L104.19,176.91 L104.44,176.92 L104.69,176.92 L104.94,176.92 L105.19,176.92 L105.44,176.93 L105.69,176.93 L105.94,176.93 L106.19,176.93 L106.44,176.94 L106.69,176.94 L106.94,176.94 L107.19,176.94 L107.44,176.95 L107.69,176.95 L107.94,176.95 L108.19,176.96 L108.44,176.96 L108.69,176.96 L108.94,176.96 L109.19,176.97 L109.44,176.97 L109.69,176.97 L109.94,176.98 L110.19,176.98 L110.44,176.98 L110.69,176.98 L110.94,176.99 L111.19,176.99 L111.44,176.99 L111.69,177.00 L111.94,177.00 L112.19,177.00 L112.44,177.01 L112.69,177.01 L112.94,177.01 L113.19,177.02 L113.44,177.02 L113.69,177.02 L113.94,177.03 L114.19,177.03 L114.44,177.03 L114.69,177.04 L114.94,177.04 L115.19,177.04 L115.44,177.05 L115.69,177.05 L115.94,177.06 L116.19,177.06 L116.44,177.06 L116.69,177.07 L116.94,177.07 L117.19,177.08 L117.44,177.08 L117.69,177.08 L117.94,177.09 L118.19,177.09 L118.44,177.10 L118.69,177.10 L118.94,177.10 L119.19,177.11 L119.44,177.11 L119.69,177.12 L119.94,177.12 L120.19,177.13 L120.44,177.13 L120.69,177.13 L120.94,177.14 L121.19,177.14 L121.44,177.15 L121.69,177.15 L121.94,177.16 L122.19,177.16 L122.44,177.17 L122.69,177.17 L122.94,177.18 L123.19,177.18 L123.44,177.19 L123.69,177.19 L123.94,177.20 L124.19,177.20 L124.44,177.21 L124.69,177.21 L124.94,177.22 L125.19,177.22 L125.44,177.23 L125.69,177.23 L125.94,177.24 L126.19,177.25 L126.44,177.25 L126.69,177.26 L126.94,177.26 L127.19,177.27 L127.44,177.27 L127.69,177.28 L127.94,177.29 L128.19,177.29 L128.44,177.30 L128.69,177.30 L128.94,177.31 L129.19,177.32 L129.44,177.32 L129.69,177.33 L129.94,177.34 L130.19,177.34 L130.44,177.35 L130.69,177.36 L130.94,177.36 L131.19,177.37 L131.44,177.38 L131.69,177.38 L131.94,177.39 L132.19,177.40 L132.44,177.40 L132.69,177.41 L132.94,177.42 L133.19,177.43 L133.44,177.43 L133.69,177.44 L133.94,177.45 L134.19,177.46 L134.44,177.46 L134.69,177.47 L134.94,177.48 L135.19,177.49 L135.44,177.50 L135.69,177.50 L135.94,177.51 L136.19,177.52 L136.44,177.53 L136.69,177.54 L136.94,177.55 L137.19,177.56 L137.44,177.56 L137.69,177.57 L137.94,177.58 L138.19,177.59 L138.44,177.60 L138.69,177.61 L138.94,177.62 L139.19,177.63 L139.44,177.64 L139.69,177.65 L139.94,177.66 L140.19,177.67 L140.44,177.68 L140.69,177.69 L140.94,177.70 L141.19,177.71 L141.44,177.72 L141.69,177.73 L141.94,177.74 L142.19,177.75 L142.44,177.76 L142.69,177.77 L142.94,177.78 L143.19,177.79 L143.44,177.80 L143.69,177.81 L143.94,177.82 L144.19,177.84 L144.44,177.85 L144.69,177.86 L144.94,177.87 L145.19,177.88 L145.44,177.90 L145.69,177.91 L145.94,177.92 L146.19,177.93 L146.44,177.94 L146.69,177.96 L146.94,177.97 L147.19,177.98 L147.44,178.00 L147.69,178.01 L147.94,178.02 L148.19,178.04 L148.44,178.05 L148.69,178.06 L148.94,178.08 L149.19,178.09 L149.44,178.11 L149.69,178.12 L149.94,178.13 L150.19,178.15 L150.44,178.16 L150.69,178.18 L150.94,178.19 L151.19,178.21 L151.44,178.22 L151.69,178.24 L151.94,178.26 L152.19,178.27 L152.44,178.29 L152.69,178.30 L152.94,178.32 L153.19,178.34 L153.44,178.35 L153.69,178.37 L153.94,178.39 L154.19,178.40 L154.44,178.42 L154.69,178.44 L154.94,178.46 L155.19,178.48 L155.44,178.49 L155.69,178.51 L155.94,178.53 L156.19,178.55 L156.44,178.57 L156.69,178.59 L156.94,178.61 L157.19,178.63 L157.44,178.65 L157.69,178.67 L157.94,178.69 L158.19,178.71 L158.44,178.73 L158.69,178.75 L158.94,178.77 L159.19,178.79 L159.44,178.81 L159.69,178.83 L159.94,178.86 L160.19,178.88 L160.44,178.90 L160.69,178.92 L160.94,178.95 L161.19,178.97 L161.44,178.99 L161.69,179.02 L161.94,179.04 L162.19,179.06 L162.44,179.09 L162.69,179.11 L162.94,179.14 L163.19,179.16 L163.44,179.19 L163.69,179.21 L163.94,179.24 L164.19,179.27 L164.44,179.29 L164.69,179.32 L164.94,179.35 L165.19,179.37 L165.44,179.40 L165.69,179.43 L165.94,179.46 L166.19,179.49 L166.44,179.52 L166.69,179.55 L166.94,179.58 L167.19,179.61 L167.44,179.64 L167.69,179.67 L167.94,179.70 L168.19,179.73 L168.44,179.76 L168.69,179.79 L168.94,179.82 L169.19,179.86 L169.43,179.89 L169.68,179.92 L169.93,179.96 L170.18,179.99 L170.43,180.03 L170.68,180.06 L170.93,180.10 L171.18,180.13 L171.43,180.17 L171.68,180.21 L171.93,180.24 L172.18,180.28 L172.43,180.32 L172.68,180.36 L172.93,180.39 L173.18,180.43 L173.43,180.47 L173.68,180.51 L173.93,180.55 L174.18,180.59 L174.43,180.64 L174.68,180.68 L174.93,180.72 L175.18,180.76 L175.43,180.81 L175.68,180.85 L175.93,180.89 L176.18,180.94 L176.43,180.98 L176.68,181.03 L176.93,181.08 L177.18,181.12 L177.43,181.17 L177.68,181.22 L177.93,181.27 L178.18,181.32 L178.43,181.37 L178.68,181.42 L178.93,181.47 L179.18,181.52 L179.43,181.57 L179.68,181.63 L179.93,181.68 L180.18,181.73 L180.43,181.79 L180.68,181.84 L180.93,181.90 L181.18,181.96 L181.43,182.01 L181.68,182.07 L181.93,182.13 L182.18,182.19 L182.43,182.25 L182.68,182.31 L182.93,182.37 L183.18,182.44 L183.43,182.50 L183.68,182.56 L183.93,182.63 L184.18,182.69 L184.43,182.76 L184.68,182.83 L184.93,182.90 L185.18,182.97 L185.43,183.04 L185.68,183.11 L185.93,183.18 L186.18,183.25 L186.43,183.33 L186.68,183.40 L186.93,183.48 L187.18,183.55 L187.43,183.63 L187.68,183.71 L187.93,183.79 L188.18,183.87 L188.43,183.95 L188.68,184.03 L188.93,184.12 L189.18,184.20 L189.43,184.29 L189.68,184.38 L189.93,184.46 L190.18,184.55 L190.43,184.65 L190.68,184.74 L190.93,184.83 L191.18,184.93 L191.43,185.02 L191.68,185.12 L191.93,185.22 L192.18,185.32 L192.43,185.42 L192.68,185.52 L192.93,185.63 L193.18,185.73 L193.43,185.84 L193.68,185.95 L193.93,186.06 L194.18,186.17 L194.43,186.29 L194.68,186.40 L194.93,186.52 L195.18,186.64 L195.43,186.76 L195.68,186.88 L195.93,187.01 L196.18,187.13 L196.43,187.26 L196.68,187.39 L196.93,187.52 L197.18,187.66 L197.43,187.79 L197.68,187.93 L197.93,188.07 L198.18,188.22 L198.43,188.36 L198.68,188.51 L198.93,188.66 L199.18,188.81 L199.43,188.97 L199.68,189.12 L199.93,189.28 L200.18,189.45 L200.43,189.61 L200.68,189.78 L200.93,189.95 L201.18,190.13 L201.43,190.30 L201.68,190.48 L201.93,190.67 L202.18,190.85 L202.43,191.04 L202.68,191.24 L202.93,191.43 L203.18,191.63 L203.43,191.84 L203.68,192.05 L203.93,192.26 L204.18,192.47 L204.43,192.70 L204.68,192.92 L204.93,193.15 L205.18,193.38 L205.43,193.62 L205.68,193.86 L205.93,194.11 L206.18,194.36 L206.43,194.62 L206.68,194.89 L206.93,195.16 L207.18,195.43 L207.43,195.71 L207.68,196.00 L207.93,196.29 L208.18,196.59 L208.43,196.90 L208.68,197.22 L208.93,197.54 L209.18,197.87 L209.43,198.21 L209.68,198.55 L209.93,198.91 L210.18,199.27 L210.43,199.65 L210.68,200.03 L210.93,200.42 L211.18,200.83 L211.43,201.24 L211.68,201.67 L211.93,202.11 L212.18,202.56 L212.43,203.03 L212.68,203.51 L212.93,204.00 L213.18,204.51 L213.43,205.04 L213.68,205.59 L213.93,206.15 L214.18,206.73 L214.43,207.34 L214.68,207.96 L214.93,208.62 L215.18,209.29 L215.43,209.99 L215.68,210.73 L215.93,211.49 L216.18,212.29 L216.43,213.12 L216.68,214.00 L216.93,214.91 L217.18,215.88 L217.43,216.89 L217.68,217.97 L217.93,219.10 L218.18,220.31 L218.43,221.60 L218.68,222.98 L218.93,224.45 L219.18,226.05 L219.43,227.78 L219.68,229.67 L219.93,231.75 L220.18,234.05 L220.43,236.64 L220.68,239.59 L220.93,243.00 L221.18,247.04 L221.43,252.00 L221.68,258.39 L221.93,267.36 L222.18,282.41 L222.23,279.30" fill="none" stroke="#000" stroke-width="3.2" stroke-linejoin="round"/>
<path d="M222.75,279.30 L222.76,278.80 L222.77,278.30 L222.77,277.80 L222.78,277.30 L222.79,276.80 L222.79,276.30 L222.80,275.80 L222.81,275.30 L222.82,274.80 L222.83,274.30 L222.83,273.80 L222.84,273.30 L222.85,272.80 L222.86,272.30 L222.87,271.80 L222.88,271.30 L222.89,270.80 L222.90,270.30 L222.91,269.80 L222.92,269.30 L222.93,268.80 L222.94,268.30 L222.95,267.80 L222.96,267.30 L222.97,266.80 L222.98,266.30 L222.99,265.80 L223.00,265.30 L223.02,264.80 L223.03,264.30 L223.04,263.80 L223.05,263.30 L223.07,262.80 L223.08,262.30 L223.09,261.80 L223.11,261.30 L223.12,260.80 L223.14,260.30 L223.15,259.80 L223.17,259.30 L223.18,258.80 L223.20,258.30 L223.21,257.80 L223.23,257.30 L223.25,256.80 L223.26,256.30 L223.28,255.80 L223.30,255.30 L223.32,254.80 L223.34,254.30 L223.36,253.80 L223.38,253.30 L223.40,252.80 L223.42,252.30 L223.44,251.80 L223.46,251.30 L223.48,250.80 L223.50,250.30 L223.52,249.80 L223.55,249.30 L223.57,248.80 L223.60,248.30 L223.62,247.80 L223.64,247.30 L223.67,246.80 L223.70,246.30 L223.72,245.80 L223.75,245.30 L223.78,244.80 L223.81,244.30 L223.84,243.80 L223.86,243.30 L223.90,242.80 L223.93,242.30 L223.96,241.80 L223.99,241.30 L224.02,240.80 L224.06,240.30 L224.09,239.80 L224.12,239.30 L224.16,238.80 L224.20,238.30 L224.23,237.80 L224.27,237.30 L224.31,236.80 L224.35,236.30 L224.39,235.80 L224.43,235.30 L224.47,234.80 L224.51,234.30 L224.56,233.80 L224.60,233.30 L224.65,232.80 L224.69,232.30 L224.74,231.80 L224.79,231.30 L224.84,230.80 L224.89,230.30 L224.94,229.80 L224.99,229.30 L225.04,228.80 L225.09,228.30 L225.15,227.80 L225.21,227.30 L225.26,226.80 L225.32,226.30 L225.38,225.80 L225.44,225.30 L225.50,224.80 L225.57,224.30 L225.63,223.80 L225.70,223.30 L225.76,222.80 L225.83,222.30 L225.90,221.80 L225.97,221.30 L226.04,220.80 L226.11,220.30 L226.19,219.80 L226.27,219.30 L226.34,218.80 L226.42,218.30 L226.50,217.80 L226.58,217.30 L226.67,216.80 L226.75,216.30 L226.84,215.80 L226.93,215.30 L227.02,214.80 L227.11,214.30 L227.20,213.80 L227.30,213.30 L227.39,212.80 L227.49,212.30 L227.59,211.80 L227.69,211.30 L227.80,210.80 L227.90,210.30 L228.01,209.80 L228.12,209.30 L228.23,208.80 L228.34,208.30 L228.46,207.80 L228.58,207.30 L228.69,206.80 L228.82,206.30 L228.94,205.80 L229.06,205.30 L229.19,204.80 L229.32,204.30 L229.45,203.80 L229.59,203.30 L229.72,202.80 L229.86,202.30 L230.00,201.80 L230.14,201.30 L230.29,200.80 L230.44,200.30 L230.59,199.80 L230.74,199.30 L230.89,198.80 L231.05,198.30 L231.21,197.80 L231.37,197.30 L231.54,196.80 L231.70,196.30 L231.87,195.80 L232.05,195.30 L232.22,194.80 L232.40,194.30 L232.58,193.80 L232.76,193.30 L232.95,192.80 L233.13,192.30 L233.33,191.80 L233.52,191.30 L233.72,190.80 L233.91,190.30 L234.12,189.80 L234.32,189.30 L234.53,188.80 L234.74,188.30 L234.95,187.80 L235.17,187.30 L235.39,186.80 L235.61,186.30 L235.83,185.80 L236.06,185.30 L236.29,184.80 L236.53,184.30 L236.76,183.80 L237.00,183.30 L237.24,182.80 L237.49,182.30 L237.74,181.80 L237.99,181.30 L238.24,180.80 L238.50,180.30 L238.76,179.80 L239.02,179.30 L239.29,178.80 L239.56,178.30 L239.83,177.80 L240.11,177.30 L240.39,176.80 L240.67,176.30 L240.95,175.80 L241.24,175.30 L241.53,174.80 L241.83,174.30 L242.12,173.80 L242.42,173.30 L242.73,172.80 L243.03,172.30 L243.34,171.80 L243.65,171.30 L243.97,170.80 L244.28,170.30 L244.61,169.80 L244.93,169.30 L245.26,168.80 L245.59,168.30 L245.92,167.80 L246.25,167.30 L246.59,166.80 L246.93,166.30 L247.28,165.80 L247.63,165.30 L247.98,164.80 L248.33,164.30 L248.68,163.80 L249.04,163.30 L249.40,162.80 L249.77,162.30 L250.14,161.80 L250.51,161.30 L250.88,160.80 L251.25,160.30 L251.63,159.80 L252.01,159.30 L252.39,158.80 L252.78,158.30 L253.17,157.80 L253.56,157.30 L253.95,156.80 L254.35,156.30 L254.75,155.80 L255.15,155.30 L255.55,154.80 L255.96,154.30 L256.37,153.80 L256.78,153.30 L257.19,152.80 L257.60,152.30 L258.02,151.80 L258.44,151.30 L258.86,150.80 L259.29,150.30 L259.72,149.80 L260.15,149.30 L260.58,148.80 L261.01,148.30 L261.45,147.80 L261.88,147.30 L262.32,146.80 L262.76,146.30 L263.21,145.80 L263.65,145.30 L264.10,144.80 L264.55,144.30 L265.00,143.80 L265.46,143.30 L265.91,142.80 L266.37,142.30 L266.83,141.80 L267.29,141.30 L267.75,140.80 L268.22,140.30 L268.68,139.80 L269.15,139.30 L269.62,138.80 L270.09,138.30 L270.56,137.80 L271.04,137.30 L271.51,136.80 L271.99,136.30 L272.47,135.80 L272.95,135.30 L273.43,134.80 L273.92,134.30 L274.40,133.80 L274.89,133.30 L275.38,132.80 L275.87,132.30 L276.36,131.80 L276.85,131.30 L277.34,130.80 L277.84,130.30 L278.33,129.80 L278.83,129.30 L279.33,128.80 L279.83,128.30 L280.33,127.80 L280.83,127.30 L281.33,126.80 L281.84,126.30 L282.34,125.80 L282.85,125.30 L283.36,124.80 L283.87,124.30 L284.37,123.80 L284.89,123.30 L285.40,122.80 L285.91,122.30 L286.42,121.80 L286.94,121.30 L287.45,120.80 L287.97,120.30 L288.49,119.80 L289.00,119.30 L289.52,118.80 L290.04,118.30 L290.56,117.80 L291.08,117.30 L291.61,116.80 L292.13,116.30 L292.65,115.80 L293.18,115.30 L293.70,114.80 L294.23,114.30 L294.76,113.80 L295.28,113.30 L295.81,112.80 L296.34,112.30 L296.87,111.80 L297.40,111.30 L297.93,110.80 L298.46,110.30 L298.99,109.80 L299.53,109.30 L300.06,108.80 L300.59,108.30 L301.13,107.80 L301.66,107.30 L302.20,106.80 L302.74,106.30 L303.27,105.80 L303.81,105.30 L304.35,104.80 L304.88,104.30 L305.42,103.80 L305.96,103.30 L306.50,102.80 L307.04,102.30 L307.58,101.80 L308.12,101.30 L308.66,100.80 L309.21,100.30 L309.75,99.80 L310.29,99.30 L310.83,98.80 L311.38,98.30 L311.92,97.80 L312.46,97.30 L313.01,96.80 L313.55,96.30 L314.10,95.80 L314.64,95.30 L315.19,94.80 L315.74,94.30 L316.28,93.80 L316.83,93.30 L317.38,92.80 L317.92,92.30 L318.47,91.80 L319.02,91.30 L319.57,90.80 L320.12,90.30 L320.67,89.80 L321.22,89.30 L321.77,88.80 L322.31,88.30 L322.86,87.80 L323.42,87.30 L323.97,86.80 L324.52,86.30 L325.07,85.80 L325.62,85.30 L326.17,84.80 L326.72,84.30 L327.27,83.80 L327.83,83.30 L328.38,82.80 L328.93,82.30 L329.48,81.80 L330.04,81.30 L330.59,80.80 L331.14,80.30 L331.69,79.80 L332.25,79.30 L332.80,78.80 L333.36,78.30 L333.91,77.80 L334.46,77.30 L335.02,76.80 L335.57,76.30 L336.13,75.80 L336.68,75.30 L337.24,74.80 L337.79,74.30 L338.35,73.80 L338.90,73.30 L339.46,72.80 L340.02,72.30 L340.57,71.80 L341.13,71.30 L341.68,70.80 L342.24,70.30 L342.80,69.80 L343.35,69.30 L343.91,68.80 L344.47,68.30 L345.02,67.80 L345.58,67.30 L346.14,66.80 L346.69,66.30 L347.25,65.80 L347.81,65.30 L348.37,64.80 L348.92,64.30 L349.48,63.80 L350.04,63.30 L350.60,62.80 L351.15,62.30 L351.71,61.80 L352.27,61.30 L352.83,60.80 L353.39,60.30 L353.94,59.80 L354.50,59.30 L355.06,58.80 L355.62,58.30 L356.18,57.80 L356.74,57.30 L357.30,56.80 L357.85,56.30 L358.41,55.80 L358.97,55.30 L359.53,54.80 L360.09,54.30 L360.65,53.80 L361.21,53.30 L361.77,52.80 L362.33,52.30 L362.89,51.80 L363.45,51.30 L364.00,50.80 L364.56,50.30 L365.12,49.80 L365.68,49.30 L366.24,48.80 L366.80,48.30 L367.36,47.80 L367.92,47.30 L368.48,46.80 L369.04,46.30 L369.60,45.80 L370.16,45.30 L370.72,44.80 L371.28,44.30 L371.84,43.80 L372.40,43.30 L372.96,42.80 L373.52,42.30 L374.08,41.80 L374.64,41.30 L375.20,40.80 L375.76,40.30 L376.32,39.80 L376.88,39.30 L377.44,38.80 L378.01,38.30 L378.57,37.80 L379.13,37.30 L379.69,36.80 L380.25,36.30 L380.81,35.80 L381.37,35.30 L381.93,34.80 L382.49,34.30 L383.05,33.80 L383.61,33.30 L384.17,32.80 L384.73,32.30 L385.29,31.80 L385.85,31.30 L386.42,30.80 L386.98,30.30 L387.54,29.80 L388.10,29.30 L388.66,28.80 L389.22,28.30" fill="none" stroke="#000" stroke-width="3.15" stroke-linejoin="round" stroke-linecap="round"/>
<path d="M67.70,176.61 L68.45,176.61 L69.20,176.61 L69.95,176.61 L70.70,176.60 L71.45,176.60 L72.20,176.60 L72.95,176.60 L73.70,176.60 L74.46,176.59 L75.21,176.59 L75.96,176.59 L76.71,176.59 L77.46,176.58 L78.21,176.58 L78.96,176.58 L79.71,176.58 L80.46,176.57 L81.21,176.57 L81.96,176.57 L82.71,176.57 L83.46,176.56 L84.21,176.56 L84.96,176.56 L85.71,176.55 L86.46,176.55 L87.22,176.55 L87.97,176.54 L88.72,176.54 L89.47,176.54 L90.22,176.53 L90.97,176.53 L91.72,176.52 L92.47,176.52 L93.22,176.51 L93.97,176.51 L94.72,176.51 L95.47,176.50 L96.22,176.50 L96.97,176.49 L97.72,176.49 L98.47,176.48 L99.22,176.47 L99.98,176.47 L100.73,176.46 L101.48,176.46 L102.23,176.45 L102.98,176.44 L103.73,176.44 L104.48,176.43 L105.23,176.42 L105.98,176.42 L106.73,176.41 L107.48,176.40 L108.23,176.40 L108.98,176.39 L109.73,176.38 L110.48,176.37 L111.23,176.36 L111.98,176.35 L112.73,176.34 L113.49,176.33 L114.24,176.32 L114.99,176.31 L115.74,176.30 L116.49,176.29 L117.24,176.28 L117.99,176.27 L118.74,176.26 L119.49,176.25 L120.24,176.24 L120.99,176.22 L121.74,176.21 L122.49,176.20 L123.24,176.18 L123.99,176.17 L124.74,176.16 L125.49,176.14 L126.25,176.12 L127.00,176.11 L127.75,176.09 L128.50,176.08 L129.25,176.06 L130.00,176.04 L130.75,176.02 L131.50,176.00 L132.25,175.99 L133.00,175.97 L133.75,175.95 L134.50,175.92 L135.25,175.90 L136.00,175.88 L136.75,175.86 L137.50,175.84 L138.25,175.81 L139.01,175.79 L139.76,175.76 L140.51,175.74 L141.26,175.71 L142.01,175.68 L142.76,175.65 L143.51,175.62 L144.26,175.59 L145.01,175.56 L145.76,175.53 L146.51,175.50 L147.26,175.47 L148.01,175.43 L148.76,175.40 L149.51,175.36 L150.26,175.32 L151.01,175.28 L151.77,175.24 L152.52,175.20 L153.27,175.16 L154.02,175.12 L154.77,175.08 L155.52,175.03 L156.27,174.99 L157.02,174.94 L157.77,174.89 L158.52,174.84 L159.27,174.79 L160.02,174.73 L160.77,174.68 L161.52,174.62 L162.27,174.57 L163.02,174.51 L163.77,174.45 L164.53,174.39 L165.28,174.32 L166.03,174.26 L166.78,174.19 L167.53,174.12 L168.28,174.05 L169.03,173.98 L169.78,173.90 L170.53,173.83 L171.28,173.75 L172.03,173.67 L172.78,173.59 L173.53,173.50 L174.28,173.42 L175.03,173.33 L175.78,173.24 L176.53,173.14 L177.29,173.05 L178.04,172.95 L178.79,172.85 L179.54,172.75 L180.29,172.64 L181.04,172.53 L181.79,172.42 L182.54,172.31 L183.29,172.19 L184.04,172.07 L184.79,171.95 L185.54,171.83 L186.29,171.70 L187.04,171.57 L187.79,171.43 L188.54,171.30 L189.29,171.16 L190.04,171.01 L190.80,170.87 L191.55,170.72 L192.30,170.56 L193.05,170.41 L193.80,170.25 L194.55,170.08 L195.30,169.92 L196.05,169.75 L196.80,169.57 L197.55,169.39 L198.30,169.21 L199.05,169.02 L199.80,168.83 L200.55,168.64 L201.30,168.44 L202.05,168.24 L202.80,168.03 L203.56,167.82 L204.31,167.61 L205.06,167.39 L205.81,167.17 L206.56,166.94 L207.31,166.71 L208.06,166.47 L208.81,166.23 L209.56,165.99 L210.31,165.74 L211.06,165.49 L211.81,165.23 L212.56,164.96 L213.31,164.70 L214.06,164.42 L214.81,164.15 L215.56,163.87 L216.32,163.58 L217.07,163.29 L217.82,162.99 L218.57,162.69 L219.32,162.39 L220.07,162.08 L220.82,161.76 L221.57,161.44 L222.32,161.12 L223.07,160.79 L223.82,160.45 L224.57,160.11 L225.32,159.77 L226.07,159.42 L226.82,159.07 L227.57,158.71 L228.32,158.35 L229.08,157.98 L229.83,157.61 L230.58,157.23 L231.33,156.85 L232.08,156.46 L232.83,156.07 L233.58,155.67 L234.33,155.27 L235.08,154.87 L235.83,154.46 L236.58,154.04 L237.33,153.62 L238.08,153.20 L238.83,152.77 L239.58,152.34 L240.33,151.90 L241.08,151.46 L241.84,151.02 L242.59,150.57 L243.34,150.11 L244.09,149.65 L244.84,149.19 L245.59,148.72 L246.34,148.25 L247.09,147.78 L247.84,147.30 L248.59,146.82 L249.34,146.33 L250.09,145.84 L250.84,145.35 L251.59,144.85 L252.34,144.35 L253.09,143.85 L253.84,143.34 L254.60,142.83 L255.35,142.31 L256.10,141.79 L256.85,141.27 L257.60,140.75 L258.35,140.22 L259.10,139.69 L259.85,139.15 L260.60,138.61 L261.35,138.07 L262.10,137.52 L262.85,136.97 L263.60,136.41 L264.35,135.85 L265.10,135.29 L265.85,134.73 L266.60,134.16 L267.36,133.59 L268.11,133.01 L268.86,132.43 L269.61,131.85 L270.36,131.27 L271.11,130.68 L271.86,130.09 L272.61,129.50 L273.36,128.91 L274.11,128.31 L274.86,127.71 L275.61,127.11 L276.36,126.50 L277.11,125.90 L277.86,125.29 L278.61,124.67 L279.36,124.06 L280.11,123.45 L280.87,122.83 L281.62,122.21 L282.37,121.59 L283.12,120.96 L283.87,120.34 L284.62,119.71 L285.37,119.08 L286.12,118.45 L286.87,117.82 L287.62,117.19 L288.37,116.56 L289.12,115.92 L289.87,115.29 L290.62,114.65 L291.37,114.01 L292.12,113.37 L292.87,112.73 L293.63,112.09 L294.38,111.45 L295.13,110.80 L295.88,110.16 L296.63,109.52 L297.38,108.87 L298.13,108.22 L298.88,107.58 L299.63,106.93 L300.38,106.28 L301.13,105.64 L301.88,104.99 L302.63,104.34 L303.38,103.69 L304.13,103.05 L304.88,102.40 L305.63,101.75 L306.39,101.10 L307.14,100.45 L307.89,99.80 L308.64,99.15 L309.39,98.51 L310.14,97.86 L310.89,97.21 L311.64,96.56 L312.39,95.92 L313.14,95.27 L313.89,94.62 L314.64,93.97 L315.39,93.32 L316.14,92.67 L316.89,92.02 L317.64,91.37 L318.39,90.72 L319.15,90.07 L319.90,89.41 L320.65,88.76 L321.40,88.11 L322.15,87.45 L322.90,86.80 L323.65,86.15 L324.40,85.49 L325.15,84.84 L325.90,84.18 L326.65,83.52 L327.40,82.87 L328.15,82.21 L328.90,81.56 L329.65,80.90 L330.40,80.24 L331.15,79.58 L331.91,78.92 L332.66,78.27 L333.41,77.61 L334.16,76.95 L334.91,76.29 L335.66,75.63 L336.41,74.97 L337.16,74.31 L337.91,73.65 L338.66,72.99 L339.41,72.33 L340.16,71.67 L340.91,71.01 L341.66,70.35 L342.41,69.69 L343.16,69.02 L343.91,68.36 L344.67,67.70 L345.42,67.04 L346.17,66.38 L346.92,65.71 L347.67,65.05 L348.42,64.39 L349.17,63.73 L349.92,63.06 L350.67,62.40 L351.42,61.74 L352.17,61.07 L352.92,60.41 L353.67,59.75 L354.42,59.08 L355.17,58.42 L355.92,57.76 L356.67,57.09 L357.42,56.43 L358.18,55.76 L358.93,55.10 L359.68,54.43 L360.43,53.77 L361.18,53.11 L361.93,52.44 L362.68,51.78 L363.43,51.11 L364.18,50.45 L364.93,49.78 L365.68,49.12 L366.43,48.45 L367.18,47.78 L367.93,47.12 L368.68,46.45 L369.43,45.79 L370.18,45.12 L370.94,44.46 L371.69,43.79 L372.44,43.13 L373.19,42.46 L373.94,41.79 L374.69,41.13 L375.44,40.46 L376.19,39.80 L376.94,39.13 L377.69,38.46 L378.44,37.80 L379.19,37.13 L379.94,36.46 L380.69,35.80 L381.44,35.13 L382.19,34.46 L382.94,33.80 L383.70,33.13 L384.45,32.46 L385.20,31.80 L385.95,31.13 L386.70,30.46 L387.45,29.80 L388.20,29.13 L388.95,28.46 L389.70,27.80" fill="none" stroke="#000" stroke-width="3.85" stroke-linejoin="round" stroke-linecap="round"/>
</g>
<rect x="349.50" y="26.10" width="8.60" height="250.20" fill="#fff"/>
<g clip-path="url(#bc)" stroke="#000" stroke-width="1.05"><line x1="349.50" y1="17.20" x2="358.10" y2="23.91"/><line x1="349.50" y1="21.50" x2="358.10" y2="28.21"/><line x1="349.50" y1="25.80" x2="358.10" y2="32.51"/><line x1="349.50" y1="30.10" x2="358.10" y2="36.81"/><line x1="349.50" y1="34.40" x2="358.10" y2="41.11"/><line x1="349.50" y1="38.70" x2="358.10" y2="45.41"/><line x1="349.50" y1="43.00" x2="358.10" y2="49.71"/><line x1="349.50" y1="47.30" x2="358.10" y2="54.01"/><line x1="349.50" y1="51.60" x2="358.10" y2="58.31"/><line x1="349.50" y1="55.90" x2="358.10" y2="62.61"/><line x1="349.50" y1="60.20" x2="358.10" y2="66.91"/><line x1="349.50" y1="64.50" x2="358.10" y2="71.21"/><line x1="349.50" y1="68.80" x2="358.10" y2="75.51"/><line x1="349.50" y1="73.10" x2="358.10" y2="79.81"/><line x1="349.50" y1="77.40" x2="358.10" y2="84.11"/><line x1="349.50" y1="81.70" x2="358.10" y2="88.41"/><line x1="349.50" y1="86.00" x2="358.10" y2="92.71"/><line x1="349.50" y1="90.30" x2="358.10" y2="97.01"/><line x1="349.50" y1="94.60" x2="358.10" y2="101.31"/><line x1="349.50" y1="98.90" x2="358.10" y2="105.61"/><line x1="349.50" y1="103.20" x2="358.10" y2="109.91"/><line x1="349.50" y1="107.50" x2="358.10" y2="114.21"/><line x1="349.50" y1="111.80" x2="358.10" y2="118.51"/><line x1="349.50" y1="116.10" x2="358.10" y2="122.81"/><line x1="349.50" y1="120.40" x2="358.10" y2="127.11"/><line x1="349.50" y1="124.70" x2="358.10" y2="131.41"/><line x1="349.50" y1="129.00" x2="358.10" y2="135.71"/><line x1="349.50" y1="133.30" x2="358.10" y2="140.01"/><line x1="349.50" y1="137.60" x2="358.10" y2="144.31"/><line x1="349.50" y1="141.90" x2="358.10" y2="148.61"/><line x1="349.50" y1="146.20" x2="358.10" y2="152.91"/><line x1="349.50" y1="150.50" x2="358.10" y2="157.21"/><line x1="349.50" y1="154.80" x2="358.10" y2="161.51"/><line x1="349.50" y1="159.10" x2="358.10" y2="165.81"/><line x1="349.50" y1="163.40" x2="358.10" y2="170.11"/><line x1="349.50" y1="167.70" x2="358.10" y2="174.41"/><line x1="349.50" y1="172.00" x2="358.10" y2="178.71"/><line x1="349.50" y1="176.30" x2="358.10" y2="183.01"/><line x1="349.50" y1="180.60" x2="358.10" y2="187.31"/><line x1="349.50" y1="184.90" x2="358.10" y2="191.61"/><line x1="349.50" y1="189.20" x2="358.10" y2="195.91"/><line x1="349.50" y1="193.50" x2="358.10" y2="200.21"/><line x1="349.50" y1="197.80" x2="358.10" y2="204.51"/><line x1="349.50" y1="202.10" x2="358.10" y2="208.81"/><line x1="349.50" y1="206.40" x2="358.10" y2="213.11"/><line x1="349.50" y1="210.70" x2="358.10" y2="217.41"/><line x1="349.50" y1="215.00" x2="358.10" y2="221.71"/><line x1="349.50" y1="219.30" x2="358.10" y2="226.01"/><line x1="349.50" y1="223.60" x2="358.10" y2="230.31"/><line x1="349.50" y1="227.90" x2="358.10" y2="234.61"/><line x1="349.50" y1="232.20" x2="358.10" y2="238.91"/><line x1="349.50" y1="236.50" x2="358.10" y2="243.21"/><line x1="349.50" y1="240.80" x2="358.10" y2="247.51"/><line x1="349.50" y1="245.10" x2="358.10" y2="251.81"/><line x1="349.50" y1="249.40" x2="358.10" y2="256.11"/><line x1="349.50" y1="253.70" x2="358.10" y2="260.41"/><line x1="349.50" y1="258.00" x2="358.10" y2="264.71"/><line x1="349.50" y1="262.30" x2="358.10" y2="269.01"/><line x1="349.50" y1="266.60" x2="358.10" y2="273.31"/><line x1="349.50" y1="270.90" x2="358.10" y2="277.61"/><line x1="349.50" y1="275.20" x2="358.10" y2="281.91"/><line x1="349.50" y1="279.50" x2="358.10" y2="286.21"/></g>
<g clip-path="url(#bc)"><path d="M67.70,176.61 L68.45,176.61 L69.20,176.61 L69.95,176.61 L70.70,176.60 L71.45,176.60 L72.20,176.60 L72.95,176.60 L73.70,176.60 L74.46,176.59 L75.21,176.59 L75.96,176.59 L76.71,176.59 L77.46,176.58 L78.21,176.58 L78.96,176.58 L79.71,176.58 L80.46,176.57 L81.21,176.57 L81.96,176.57 L82.71,176.57 L83.46,176.56 L84.21,176.56 L84.96,176.56 L85.71,176.55 L86.46,176.55 L87.22,176.55 L87.97,176.54 L88.72,176.54 L89.47,176.54 L90.22,176.53 L90.97,176.53 L91.72,176.52 L92.47,176.52 L93.22,176.51 L93.97,176.51 L94.72,176.51 L95.47,176.50 L96.22,176.50 L96.97,176.49 L97.72,176.49 L98.47,176.48 L99.22,176.47 L99.98,176.47 L100.73,176.46 L101.48,176.46 L102.23,176.45 L102.98,176.44 L103.73,176.44 L104.48,176.43 L105.23,176.42 L105.98,176.42 L106.73,176.41 L107.48,176.40 L108.23,176.40 L108.98,176.39 L109.73,176.38 L110.48,176.37 L111.23,176.36 L111.98,176.35 L112.73,176.34 L113.49,176.33 L114.24,176.32 L114.99,176.31 L115.74,176.30 L116.49,176.29 L117.24,176.28 L117.99,176.27 L118.74,176.26 L119.49,176.25 L120.24,176.24 L120.99,176.22 L121.74,176.21 L122.49,176.20 L123.24,176.18 L123.99,176.17 L124.74,176.16 L125.49,176.14 L126.25,176.12 L127.00,176.11 L127.75,176.09 L128.50,176.08 L129.25,176.06 L130.00,176.04 L130.75,176.02 L131.50,176.00 L132.25,175.99 L133.00,175.97 L133.75,175.95 L134.50,175.92 L135.25,175.90 L136.00,175.88 L136.75,175.86 L137.50,175.84 L138.25,175.81 L139.01,175.79 L139.76,175.76 L140.51,175.74 L141.26,175.71 L142.01,175.68 L142.76,175.65 L143.51,175.62 L144.26,175.59 L145.01,175.56 L145.76,175.53 L146.51,175.50 L147.26,175.47 L148.01,175.43 L148.76,175.40 L149.51,175.36 L150.26,175.32 L151.01,175.28 L151.77,175.24 L152.52,175.20 L153.27,175.16 L154.02,175.12 L154.77,175.08 L155.52,175.03 L156.27,174.99 L157.02,174.94 L157.77,174.89 L158.52,174.84 L159.27,174.79 L160.02,174.73 L160.77,174.68 L161.52,174.62 L162.27,174.57 L163.02,174.51 L163.77,174.45 L164.53,174.39 L165.28,174.32 L166.03,174.26 L166.78,174.19 L167.53,174.12 L168.28,174.05 L169.03,173.98 L169.78,173.90 L170.53,173.83 L171.28,173.75 L172.03,173.67 L172.78,173.59 L173.53,173.50 L174.28,173.42 L175.03,173.33 L175.78,173.24 L176.53,173.14 L177.29,173.05 L178.04,172.95 L178.79,172.85 L179.54,172.75 L180.29,172.64 L181.04,172.53 L181.79,172.42 L182.54,172.31 L183.29,172.19 L184.04,172.07 L184.79,171.95 L185.54,171.83 L186.29,171.70 L187.04,171.57 L187.79,171.43 L188.54,171.30 L189.29,171.16 L190.04,171.01 L190.80,170.87 L191.55,170.72 L192.30,170.56 L193.05,170.41 L193.80,170.25 L194.55,170.08 L195.30,169.92 L196.05,169.75 L196.80,169.57 L197.55,169.39 L198.30,169.21 L199.05,169.02 L199.80,168.83 L200.55,168.64 L201.30,168.44 L202.05,168.24 L202.80,168.03 L203.56,167.82 L204.31,167.61 L205.06,167.39 L205.81,167.17 L206.56,166.94 L207.31,166.71 L208.06,166.47 L208.81,166.23 L209.56,165.99 L210.31,165.74 L211.06,165.49 L211.81,165.23 L212.56,164.96 L213.31,164.70 L214.06,164.42 L214.81,164.15 L215.56,163.87 L216.32,163.58 L217.07,163.29 L217.82,162.99 L218.57,162.69 L219.32,162.39 L220.07,162.08 L220.82,161.76 L221.57,161.44 L222.32,161.12 L223.07,160.79 L223.82,160.45 L224.57,160.11 L225.32,159.77 L226.07,159.42 L226.82,159.07 L227.57,158.71 L228.32,158.35 L229.08,157.98 L229.83,157.61 L230.58,157.23 L231.33,156.85 L232.08,156.46 L232.83,156.07 L233.58,155.67 L234.33,155.27 L235.08,154.87 L235.83,154.46 L236.58,154.04 L237.33,153.62 L238.08,153.20 L238.83,152.77 L239.58,152.34 L240.33,151.90 L241.08,151.46 L241.84,151.02 L242.59,150.57 L243.34,150.11 L244.09,149.65 L244.84,149.19 L245.59,148.72 L246.34,148.25 L247.09,147.78 L247.84,147.30 L248.59,146.82 L249.34,146.33 L250.09,145.84 L250.84,145.35 L251.59,144.85 L252.34,144.35 L253.09,143.85 L253.84,143.34 L254.60,142.83 L255.35,142.31 L256.10,141.79 L256.85,141.27 L257.60,140.75 L258.35,140.22 L259.10,139.69 L259.85,139.15 L260.60,138.61 L261.35,138.07 L262.10,137.52 L262.85,136.97 L263.60,136.41 L264.35,135.85 L265.10,135.29 L265.85,134.73 L266.60,134.16 L267.36,133.59 L268.11,133.01 L268.86,132.43 L269.61,131.85 L270.36,131.27 L271.11,130.68 L271.86,130.09 L272.61,129.50 L273.36,128.91 L274.11,128.31 L274.86,127.71 L275.61,127.11 L276.36,126.50 L277.11,125.90 L277.86,125.29 L278.61,124.67 L279.36,124.06 L280.11,123.45 L280.87,122.83 L281.62,122.21 L282.37,121.59 L283.12,120.96 L283.87,120.34 L284.62,119.71 L285.37,119.08 L286.12,118.45 L286.87,117.82 L287.62,117.19 L288.37,116.56 L289.12,115.92 L289.87,115.29 L290.62,114.65 L291.37,114.01 L292.12,113.37 L292.87,112.73 L293.63,112.09 L294.38,111.45 L295.13,110.80 L295.88,110.16 L296.63,109.52 L297.38,108.87 L298.13,108.22 L298.88,107.58 L299.63,106.93 L300.38,106.28 L301.13,105.64 L301.88,104.99 L302.63,104.34 L303.38,103.69 L304.13,103.05 L304.88,102.40 L305.63,101.75 L306.39,101.10 L307.14,100.45 L307.89,99.80 L308.64,99.15 L309.39,98.51 L310.14,97.86 L310.89,97.21 L311.64,96.56 L312.39,95.92 L313.14,95.27 L313.89,94.62 L314.64,93.97 L315.39,93.32 L316.14,92.67 L316.89,92.02 L317.64,91.37 L318.39,90.72 L319.15,90.07 L319.90,89.41 L320.65,88.76 L321.40,88.11 L322.15,87.45 L322.90,86.80 L323.65,86.15 L324.40,85.49 L325.15,84.84 L325.90,84.18 L326.65,83.52 L327.40,82.87 L328.15,82.21 L328.90,81.56 L329.65,80.90 L330.40,80.24 L331.15,79.58 L331.91,78.92 L332.66,78.27 L333.41,77.61 L334.16,76.95 L334.91,76.29 L335.66,75.63 L336.41,74.97 L337.16,74.31 L337.91,73.65 L338.66,72.99 L339.41,72.33 L340.16,71.67 L340.91,71.01 L341.66,70.35 L342.41,69.69 L343.16,69.02 L343.91,68.36 L344.67,67.70 L345.42,67.04 L346.17,66.38 L346.92,65.71 L347.67,65.05 L348.42,64.39 L349.17,63.73 L349.92,63.06 L350.67,62.40 L351.42,61.74 L352.17,61.07 L352.92,60.41 L353.67,59.75 L354.42,59.08 L355.17,58.42 L355.92,57.76 L356.67,57.09 L357.42,56.43 L358.18,55.76 L358.93,55.10 L359.68,54.43 L360.43,53.77 L361.18,53.11 L361.93,52.44 L362.68,51.78 L363.43,51.11 L364.18,50.45 L364.93,49.78 L365.68,49.12 L366.43,48.45 L367.18,47.78 L367.93,47.12 L368.68,46.45 L369.43,45.79 L370.18,45.12 L370.94,44.46 L371.69,43.79 L372.44,43.13 L373.19,42.46 L373.94,41.79 L374.69,41.13 L375.44,40.46 L376.19,39.80 L376.94,39.13 L377.69,38.46 L378.44,37.80 L379.19,37.13 L379.94,36.46 L380.69,35.80 L381.44,35.13 L382.19,34.46 L382.94,33.80 L383.70,33.13 L384.45,32.46 L385.20,31.80 L385.95,31.13 L386.70,30.46 L387.45,29.80 L388.20,29.13 L388.95,28.46 L389.70,27.80" fill="none" stroke="#000" stroke-width="3.7"/><path d="M222.75,279.30 L222.76,278.80 L222.77,278.30 L222.77,277.80 L222.78,277.30 L222.79,276.80 L222.79,276.30 L222.80,275.80 L222.81,275.30 L222.82,274.80 L222.83,274.30 L222.83,273.80 L222.84,273.30 L222.85,272.80 L222.86,272.30 L222.87,271.80 L222.88,271.30 L222.89,270.80 L222.90,270.30 L222.91,269.80 L222.92,269.30 L222.93,268.80 L222.94,268.30 L222.95,267.80 L222.96,267.30 L222.97,266.80 L222.98,266.30 L222.99,265.80 L223.00,265.30 L223.02,264.80 L223.03,264.30 L223.04,263.80 L223.05,263.30 L223.07,262.80 L223.08,262.30 L223.09,261.80 L223.11,261.30 L223.12,260.80 L223.14,260.30 L223.15,259.80 L223.17,259.30 L223.18,258.80 L223.20,258.30 L223.21,257.80 L223.23,257.30 L223.25,256.80 L223.26,256.30 L223.28,255.80 L223.30,255.30 L223.32,254.80 L223.34,254.30 L223.36,253.80 L223.38,253.30 L223.40,252.80 L223.42,252.30 L223.44,251.80 L223.46,251.30 L223.48,250.80 L223.50,250.30 L223.52,249.80 L223.55,249.30 L223.57,248.80 L223.60,248.30 L223.62,247.80 L223.64,247.30 L223.67,246.80 L223.70,246.30 L223.72,245.80 L223.75,245.30 L223.78,244.80 L223.81,244.30 L223.84,243.80 L223.86,243.30 L223.90,242.80 L223.93,242.30 L223.96,241.80 L223.99,241.30 L224.02,240.80 L224.06,240.30 L224.09,239.80 L224.12,239.30 L224.16,238.80 L224.20,238.30 L224.23,237.80 L224.27,237.30 L224.31,236.80 L224.35,236.30 L224.39,235.80 L224.43,235.30 L224.47,234.80 L224.51,234.30 L224.56,233.80 L224.60,233.30 L224.65,232.80 L224.69,232.30 L224.74,231.80 L224.79,231.30 L224.84,230.80 L224.89,230.30 L224.94,229.80 L224.99,229.30 L225.04,228.80 L225.09,228.30 L225.15,227.80 L225.21,227.30 L225.26,226.80 L225.32,226.30 L225.38,225.80 L225.44,225.30 L225.50,224.80 L225.57,224.30 L225.63,223.80 L225.70,223.30 L225.76,222.80 L225.83,222.30 L225.90,221.80 L225.97,221.30 L226.04,220.80 L226.11,220.30 L226.19,219.80 L226.27,219.30 L226.34,218.80 L226.42,218.30 L226.50,217.80 L226.58,217.30 L226.67,216.80 L226.75,216.30 L226.84,215.80 L226.93,215.30 L227.02,214.80 L227.11,214.30 L227.20,213.80 L227.30,213.30 L227.39,212.80 L227.49,212.30 L227.59,211.80 L227.69,211.30 L227.80,210.80 L227.90,210.30 L228.01,209.80 L228.12,209.30 L228.23,208.80 L228.34,208.30 L228.46,207.80 L228.58,207.30 L228.69,206.80 L228.82,206.30 L228.94,205.80 L229.06,205.30 L229.19,204.80 L229.32,204.30 L229.45,203.80 L229.59,203.30 L229.72,202.80 L229.86,202.30 L230.00,201.80 L230.14,201.30 L230.29,200.80 L230.44,200.30 L230.59,199.80 L230.74,199.30 L230.89,198.80 L231.05,198.30 L231.21,197.80 L231.37,197.30 L231.54,196.80 L231.70,196.30 L231.87,195.80 L232.05,195.30 L232.22,194.80 L232.40,194.30 L232.58,193.80 L232.76,193.30 L232.95,192.80 L233.13,192.30 L233.33,191.80 L233.52,191.30 L233.72,190.80 L233.91,190.30 L234.12,189.80 L234.32,189.30 L234.53,188.80 L234.74,188.30 L234.95,187.80 L235.17,187.30 L235.39,186.80 L235.61,186.30 L235.83,185.80 L236.06,185.30 L236.29,184.80 L236.53,184.30 L236.76,183.80 L237.00,183.30 L237.24,182.80 L237.49,182.30 L237.74,181.80 L237.99,181.30 L238.24,180.80 L238.50,180.30 L238.76,179.80 L239.02,179.30 L239.29,178.80 L239.56,178.30 L239.83,177.80 L240.11,177.30 L240.39,176.80 L240.67,176.30 L240.95,175.80 L241.24,175.30 L241.53,174.80 L241.83,174.30 L242.12,173.80 L242.42,173.30 L242.73,172.80 L243.03,172.30 L243.34,171.80 L243.65,171.30 L243.97,170.80 L244.28,170.30 L244.61,169.80 L244.93,169.30 L245.26,168.80 L245.59,168.30 L245.92,167.80 L246.25,167.30 L246.59,166.80 L246.93,166.30 L247.28,165.80 L247.63,165.30 L247.98,164.80 L248.33,164.30 L248.68,163.80 L249.04,163.30 L249.40,162.80 L249.77,162.30 L250.14,161.80 L250.51,161.30 L250.88,160.80 L251.25,160.30 L251.63,159.80 L252.01,159.30 L252.39,158.80 L252.78,158.30 L253.17,157.80 L253.56,157.30 L253.95,156.80 L254.35,156.30 L254.75,155.80 L255.15,155.30 L255.55,154.80 L255.96,154.30 L256.37,153.80 L256.78,153.30 L257.19,152.80 L257.60,152.30 L258.02,151.80 L258.44,151.30 L258.86,150.80 L259.29,150.30 L259.72,149.80 L260.15,149.30 L260.58,148.80 L261.01,148.30 L261.45,147.80 L261.88,147.30 L262.32,146.80 L262.76,146.30 L263.21,145.80 L263.65,145.30 L264.10,144.80 L264.55,144.30 L265.00,143.80 L265.46,143.30 L265.91,142.80 L266.37,142.30 L266.83,141.80 L267.29,141.30 L267.75,140.80 L268.22,140.30 L268.68,139.80 L269.15,139.30 L269.62,138.80 L270.09,138.30 L270.56,137.80 L271.04,137.30 L271.51,136.80 L271.99,136.30 L272.47,135.80 L272.95,135.30 L273.43,134.80 L273.92,134.30 L274.40,133.80 L274.89,133.30 L275.38,132.80 L275.87,132.30 L276.36,131.80 L276.85,131.30 L277.34,130.80 L277.84,130.30 L278.33,129.80 L278.83,129.30 L279.33,128.80 L279.83,128.30 L280.33,127.80 L280.83,127.30 L281.33,126.80 L281.84,126.30 L282.34,125.80 L282.85,125.30 L283.36,124.80 L283.87,124.30 L284.37,123.80 L284.89,123.30 L285.40,122.80 L285.91,122.30 L286.42,121.80 L286.94,121.30 L287.45,120.80 L287.97,120.30 L288.49,119.80 L289.00,119.30 L289.52,118.80 L290.04,118.30 L290.56,117.80 L291.08,117.30 L291.61,116.80 L292.13,116.30 L292.65,115.80 L293.18,115.30 L293.70,114.80 L294.23,114.30 L294.76,113.80 L295.28,113.30 L295.81,112.80 L296.34,112.30 L296.87,111.80 L297.40,111.30 L297.93,110.80 L298.46,110.30 L298.99,109.80 L299.53,109.30 L300.06,108.80 L300.59,108.30 L301.13,107.80 L301.66,107.30 L302.20,106.80 L302.74,106.30 L303.27,105.80 L303.81,105.30 L304.35,104.80 L304.88,104.30 L305.42,103.80 L305.96,103.30 L306.50,102.80 L307.04,102.30 L307.58,101.80 L308.12,101.30 L308.66,100.80 L309.21,100.30 L309.75,99.80 L310.29,99.30 L310.83,98.80 L311.38,98.30 L311.92,97.80 L312.46,97.30 L313.01,96.80 L313.55,96.30 L314.10,95.80 L314.64,95.30 L315.19,94.80 L315.74,94.30 L316.28,93.80 L316.83,93.30 L317.38,92.80 L317.92,92.30 L318.47,91.80 L319.02,91.30 L319.57,90.80 L320.12,90.30 L320.67,89.80 L321.22,89.30 L321.77,88.80 L322.31,88.30 L322.86,87.80 L323.42,87.30 L323.97,86.80 L324.52,86.30 L325.07,85.80 L325.62,85.30 L326.17,84.80 L326.72,84.30 L327.27,83.80 L327.83,83.30 L328.38,82.80 L328.93,82.30 L329.48,81.80 L330.04,81.30 L330.59,80.80 L331.14,80.30 L331.69,79.80 L332.25,79.30 L332.80,78.80 L333.36,78.30 L333.91,77.80 L334.46,77.30 L335.02,76.80 L335.57,76.30 L336.13,75.80 L336.68,75.30 L337.24,74.80 L337.79,74.30 L338.35,73.80 L338.90,73.30 L339.46,72.80 L340.02,72.30 L340.57,71.80 L341.13,71.30 L341.68,70.80 L342.24,70.30 L342.80,69.80 L343.35,69.30 L343.91,68.80 L344.47,68.30 L345.02,67.80 L345.58,67.30 L346.14,66.80 L346.69,66.30 L347.25,65.80 L347.81,65.30 L348.37,64.80 L348.92,64.30 L349.48,63.80 L350.04,63.30 L350.60,62.80 L351.15,62.30 L351.71,61.80 L352.27,61.30 L352.83,60.80 L353.39,60.30 L353.94,59.80 L354.50,59.30 L355.06,58.80 L355.62,58.30 L356.18,57.80 L356.74,57.30 L357.30,56.80 L357.85,56.30 L358.41,55.80 L358.97,55.30 L359.53,54.80 L360.09,54.30 L360.65,53.80 L361.21,53.30 L361.77,52.80 L362.33,52.30 L362.89,51.80 L363.45,51.30 L364.00,50.80 L364.56,50.30 L365.12,49.80 L365.68,49.30 L366.24,48.80 L366.80,48.30 L367.36,47.80 L367.92,47.30 L368.48,46.80 L369.04,46.30 L369.60,45.80 L370.16,45.30 L370.72,44.80 L371.28,44.30 L371.84,43.80 L372.40,43.30 L372.96,42.80 L373.52,42.30 L374.08,41.80 L374.64,41.30 L375.20,40.80 L375.76,40.30 L376.32,39.80 L376.88,39.30 L377.44,38.80 L378.01,38.30 L378.57,37.80 L379.13,37.30 L379.69,36.80 L380.25,36.30 L380.81,35.80 L381.37,35.30 L381.93,34.80 L382.49,34.30 L383.05,33.80 L383.61,33.30 L384.17,32.80 L384.73,32.30 L385.29,31.80 L385.85,31.30 L386.42,30.80 L386.98,30.30 L387.54,29.80 L388.10,29.30 L388.66,28.80 L389.22,28.30" fill="none" stroke="#000" stroke-width="3.15"/></g>
<line x1="349.50" y1="26.10" x2="349.50" y2="276.30" stroke="#000" stroke-width="0.95"/>
<line x1="358.10" y1="26.10" x2="358.10" y2="276.30" stroke="#000" stroke-width="0.95"/>
<g stroke="#000" stroke-width="1.4" fill="none">
<line x1="67.70" y1="25.40" x2="67.70" y2="277.00"/>
<line x1="67.00" y1="276.30" x2="391.20" y2="276.30"/>
<line x1="67.00" y1="26.10" x2="391.20" y2="26.10"/>
</g>
<line x1="390.70" y1="26.10" x2="390.70" y2="276.30" stroke="#333" stroke-width="0.9"/>
<g stroke="#000" stroke-width="1.1"><line x1="65.30" y1="272.11" x2="67.70" y2="272.11"/>
<line x1="65.30" y1="268.55" x2="67.70" y2="268.55"/>
<line x1="65.30" y1="265.46" x2="67.70" y2="265.46"/>
<line x1="65.30" y1="262.74" x2="67.70" y2="262.74"/>
<line x1="63.00" y1="260.30" x2="67.70" y2="260.30"/>
<line x1="65.30" y1="244.27" x2="67.70" y2="244.27"/>
<line x1="65.30" y1="234.89" x2="67.70" y2="234.89"/>
<line x1="65.30" y1="228.24" x2="67.70" y2="228.24"/>
<line x1="65.30" y1="223.08" x2="67.70" y2="223.08"/>
<line x1="65.30" y1="218.86" x2="67.70" y2="218.86"/>
<line x1="65.30" y1="215.30" x2="67.70" y2="215.30"/>
<line x1="65.30" y1="212.21" x2="67.70" y2="212.21"/>
<line x1="65.30" y1="209.49" x2="67.70" y2="209.49"/>
<line x1="63.00" y1="207.05" x2="67.70" y2="207.05"/>
<line x1="65.30" y1="191.02" x2="67.70" y2="191.02"/>
<line x1="65.30" y1="181.64" x2="67.70" y2="181.64"/>
<line x1="65.30" y1="174.99" x2="67.70" y2="174.99"/>
<line x1="65.30" y1="169.83" x2="67.70" y2="169.83"/>
<line x1="65.30" y1="165.61" x2="67.70" y2="165.61"/>
<line x1="65.30" y1="162.05" x2="67.70" y2="162.05"/>
<line x1="65.30" y1="158.96" x2="67.70" y2="158.96"/>
<line x1="65.30" y1="156.24" x2="67.70" y2="156.24"/>
<line x1="63.00" y1="153.80" x2="67.70" y2="153.80"/>
<line x1="65.30" y1="137.77" x2="67.70" y2="137.77"/>
<line x1="65.30" y1="128.39" x2="67.70" y2="128.39"/>
<line x1="65.30" y1="121.74" x2="67.70" y2="121.74"/>
<line x1="65.30" y1="116.58" x2="67.70" y2="116.58"/>
<line x1="65.30" y1="112.36" x2="67.70" y2="112.36"/>
<line x1="65.30" y1="108.80" x2="67.70" y2="108.80"/>
<line x1="65.30" y1="105.71" x2="67.70" y2="105.71"/>
<line x1="65.30" y1="102.99" x2="67.70" y2="102.99"/>
<line x1="63.00" y1="100.55" x2="67.70" y2="100.55"/>
<line x1="65.30" y1="84.52" x2="67.70" y2="84.52"/>
<line x1="65.30" y1="75.14" x2="67.70" y2="75.14"/>
<line x1="65.30" y1="68.49" x2="67.70" y2="68.49"/>
<line x1="65.30" y1="63.33" x2="67.70" y2="63.33"/>
<line x1="65.30" y1="59.11" x2="67.70" y2="59.11"/>
<line x1="65.30" y1="55.55" x2="67.70" y2="55.55"/>
<line x1="65.30" y1="52.46" x2="67.70" y2="52.46"/>
<line x1="65.30" y1="49.74" x2="67.70" y2="49.74"/>
<line x1="63.00" y1="47.30" x2="67.70" y2="47.30"/>
<line x1="65.30" y1="31.27" x2="67.70" y2="31.27"/>
<line x1="67.70" y1="276.30" x2="67.70" y2="281.10"/>
<line x1="67.70" y1="26.10" x2="67.70" y2="30.10"/>
<line x1="85.71" y1="276.30" x2="85.71" y2="278.80"/>
<line x1="85.71" y1="26.10" x2="85.71" y2="28.80"/>
<line x1="96.25" y1="276.30" x2="96.25" y2="278.80"/>
<line x1="96.25" y1="26.10" x2="96.25" y2="28.80"/>
<line x1="103.73" y1="276.30" x2="103.73" y2="278.80"/>
<line x1="103.73" y1="26.10" x2="103.73" y2="28.80"/>
<line x1="109.53" y1="276.30" x2="109.53" y2="278.80"/>
<line x1="109.53" y1="26.10" x2="109.53" y2="28.80"/>
<line x1="114.26" y1="276.30" x2="114.26" y2="278.80"/>
<line x1="114.26" y1="26.10" x2="114.26" y2="28.80"/>
<line x1="118.27" y1="276.30" x2="118.27" y2="278.80"/>
<line x1="118.27" y1="26.10" x2="118.27" y2="28.80"/>
<line x1="121.74" y1="276.30" x2="121.74" y2="278.80"/>
<line x1="121.74" y1="26.10" x2="121.74" y2="28.80"/>
<line x1="124.80" y1="276.30" x2="124.80" y2="278.80"/>
<line x1="124.80" y1="26.10" x2="124.80" y2="28.80"/>
<line x1="127.54" y1="276.30" x2="127.54" y2="281.10"/>
<line x1="127.54" y1="26.10" x2="127.54" y2="30.10"/>
<line x1="145.55" y1="276.30" x2="145.55" y2="278.80"/>
<line x1="145.55" y1="26.10" x2="145.55" y2="28.80"/>
<line x1="156.09" y1="276.30" x2="156.09" y2="278.80"/>
<line x1="156.09" y1="26.10" x2="156.09" y2="28.80"/>
<line x1="163.57" y1="276.30" x2="163.57" y2="278.80"/>
<line x1="163.57" y1="26.10" x2="163.57" y2="28.80"/>
<line x1="169.37" y1="276.30" x2="169.37" y2="278.80"/>
<line x1="169.37" y1="26.10" x2="169.37" y2="28.80"/>
<line x1="174.10" y1="276.30" x2="174.10" y2="278.80"/>
<line x1="174.10" y1="26.10" x2="174.10" y2="28.80"/>
<line x1="178.11" y1="276.30" x2="178.11" y2="278.80"/>
<line x1="178.11" y1="26.10" x2="178.11" y2="28.80"/>
<line x1="181.58" y1="276.30" x2="181.58" y2="278.80"/>
<line x1="181.58" y1="26.10" x2="181.58" y2="28.80"/>
<line x1="184.64" y1="276.30" x2="184.64" y2="278.80"/>
<line x1="184.64" y1="26.10" x2="184.64" y2="28.80"/>
<line x1="187.38" y1="276.30" x2="187.38" y2="281.10"/>
<line x1="187.38" y1="26.10" x2="187.38" y2="30.10"/>
<line x1="205.39" y1="276.30" x2="205.39" y2="278.80"/>
<line x1="205.39" y1="26.10" x2="205.39" y2="28.80"/>
<line x1="215.93" y1="276.30" x2="215.93" y2="278.80"/>
<line x1="215.93" y1="26.10" x2="215.93" y2="28.80"/>
<line x1="223.41" y1="276.30" x2="223.41" y2="278.80"/>
<line x1="223.41" y1="26.10" x2="223.41" y2="28.80"/>
<line x1="229.21" y1="276.30" x2="229.21" y2="278.80"/>
<line x1="229.21" y1="26.10" x2="229.21" y2="28.80"/>
<line x1="233.94" y1="276.30" x2="233.94" y2="278.80"/>
<line x1="233.94" y1="26.10" x2="233.94" y2="28.80"/>
<line x1="237.95" y1="276.30" x2="237.95" y2="278.80"/>
<line x1="237.95" y1="26.10" x2="237.95" y2="28.80"/>
<line x1="241.42" y1="276.30" x2="241.42" y2="278.80"/>
<line x1="241.42" y1="26.10" x2="241.42" y2="28.80"/>
<line x1="244.48" y1="276.30" x2="244.48" y2="278.80"/>
<line x1="244.48" y1="26.10" x2="244.48" y2="28.80"/>
<line x1="247.22" y1="276.30" x2="247.22" y2="281.10"/>
<line x1="247.22" y1="26.10" x2="247.22" y2="30.10"/>
<line x1="265.23" y1="276.30" x2="265.23" y2="278.80"/>
<line x1="265.23" y1="26.10" x2="265.23" y2="28.80"/>
<line x1="275.77" y1="276.30" x2="275.77" y2="278.80"/>
<line x1="275.77" y1="26.10" x2="275.77" y2="28.80"/>
<line x1="283.25" y1="276.30" x2="283.25" y2="278.80"/>
<line x1="283.25" y1="26.10" x2="283.25" y2="28.80"/>
<line x1="289.05" y1="276.30" x2="289.05" y2="278.80"/>
<line x1="289.05" y1="26.10" x2="289.05" y2="28.80"/>
<line x1="293.78" y1="276.30" x2="293.78" y2="278.80"/>
<line x1="293.78" y1="26.10" x2="293.78" y2="28.80"/>
<line x1="297.79" y1="276.30" x2="297.79" y2="278.80"/>
<line x1="297.79" y1="26.10" x2="297.79" y2="28.80"/>
<line x1="301.26" y1="276.30" x2="301.26" y2="278.80"/>
<line x1="301.26" y1="26.10" x2="301.26" y2="28.80"/>
<line x1="304.32" y1="276.30" x2="304.32" y2="278.80"/>
<line x1="304.32" y1="26.10" x2="304.32" y2="28.80"/>
<line x1="307.06" y1="276.30" x2="307.06" y2="281.10"/>
<line x1="307.06" y1="26.10" x2="307.06" y2="30.10"/>
<line x1="325.07" y1="276.30" x2="325.07" y2="278.80"/>
<line x1="325.07" y1="26.10" x2="325.07" y2="28.80"/>
<line x1="335.61" y1="276.30" x2="335.61" y2="278.80"/>
<line x1="335.61" y1="26.10" x2="335.61" y2="28.80"/>
<line x1="343.09" y1="276.30" x2="343.09" y2="278.80"/>
<line x1="343.09" y1="26.10" x2="343.09" y2="28.80"/>
<line x1="348.89" y1="276.30" x2="348.89" y2="278.80"/>
<line x1="348.89" y1="26.10" x2="348.89" y2="28.80"/>
<line x1="353.62" y1="276.30" x2="353.62" y2="278.80"/>
<line x1="353.62" y1="26.10" x2="353.62" y2="28.80"/>
<line x1="357.63" y1="276.30" x2="357.63" y2="278.80"/>
<line x1="357.63" y1="26.10" x2="357.63" y2="28.80"/>
<line x1="361.10" y1="276.30" x2="361.10" y2="278.80"/>
<line x1="361.10" y1="26.10" x2="361.10" y2="28.80"/>
<line x1="364.16" y1="276.30" x2="364.16" y2="278.80"/>
<line x1="364.16" y1="26.10" x2="364.16" y2="28.80"/>
<line x1="366.90" y1="276.30" x2="366.90" y2="281.10"/>
<line x1="366.90" y1="26.10" x2="366.90" y2="30.10"/>
<line x1="384.91" y1="276.30" x2="384.91" y2="278.80"/>
<line x1="384.91" y1="26.10" x2="384.91" y2="28.80"/></g>
<line x1="96.90" y1="129.00" x2="157.75" y2="166.67" stroke="#111" stroke-width="0.9"/><polygon points="162.00,169.30 156.00,167.59 157.79,164.70" fill="#000"/>
<line x1="274.40" y1="201.40" x2="249.19" y2="186.27" stroke="#111" stroke-width="0.9"/><polygon points="244.90,183.70 250.92,185.33 249.17,188.24" fill="#000"/>
<line x1="273.50" y1="204.50" x2="218.64" y2="195.78" stroke="#111" stroke-width="0.9"/><polygon points="213.70,195.00 219.89,194.26 219.36,197.62" fill="#000"/>
<g font-family="Liberation Sans, sans-serif" fill="#000" stroke="#000" stroke-width="0.1">
<text x="59.4" y="50.25" font-size="9" text-anchor="end">1</text>
<text x="59.4" y="103.50" font-size="9" text-anchor="end">0,1</text>
<text x="59.4" y="156.75" font-size="9" text-anchor="end">0,01</text>
<text x="59.4" y="210.00" font-size="9" text-anchor="end">1E-3</text>
<text x="59.4" y="263.25" font-size="9" text-anchor="end">1E-4</text>
<text x="68.00" y="290.7" font-size="9" text-anchor="middle">1E-5</text>
<text x="127.84" y="290.7" font-size="9" text-anchor="middle">1E-4</text>
<text x="187.68" y="290.7" font-size="9" text-anchor="middle">1E-3</text>
<text x="247.52" y="290.7" font-size="9" text-anchor="middle">0,01</text>
<text x="307.36" y="290.7" font-size="9" text-anchor="middle">0,1</text>
<text x="367.20" y="290.7" font-size="9" text-anchor="middle">1</text>
<text x="216.8" y="17.8" font-size="10" font-weight="bold" text-anchor="middle">A</text>
<text x="170.8" y="70.9" font-size="11">A</text><text x="178.2" y="74.8" font-size="6.3">3</text><text x="185.0" y="70.9" font-size="11">(SMA)</text>
<g transform="translate(90.30,123.20) scale(1,1.06)"><text x="0" y="0" font-size="11.3">|</text><text x="2.45" y="0" font-size="11.3">&lt;m</text><text x="18.9" y="3.3" font-size="5.4">v</text><text x="21.8" y="0" font-size="11.3">&gt;</text><text x="29.2" y="0" font-size="11.3">|</text><text x="31.6" y="3.3" font-size="6.4">max</text></g>
<g transform="translate(277.40,216.00) scale(1,1.06)"><text x="0" y="0" font-size="11.3">|</text><text x="2.45" y="0" font-size="11.3">&lt;m</text><text x="18.9" y="3.3" font-size="5.4">v</text><text x="21.8" y="0" font-size="11.3">&gt;</text><text x="29.2" y="0" font-size="11.3">|</text><text x="31.6" y="3.3" font-size="6.4">min</text></g>
<text x="161.6" y="131.8" font-size="10.4" font-style="italic">Genius I</text>
<text x="281.8" y="158.7" font-size="10.3" font-style="italic">Genius II</text>
<text x="200.3" y="309.3" font-size="10">(m</text><text x="212.5" y="311.8" font-size="4.6">v</text><text x="215.0" y="309.3" font-size="10">)</text><text x="218.9" y="311.6" font-size="6.2">min</text><text x="231.8" y="309.3" font-size="10">[eV]</text>
<g transform="translate(30.6,185.4) rotate(-90)"><text x="-0.4" y="0" font-size="10.3">|</text><text x="2.5" y="0" font-size="10.3">&lt;</text><text x="8.9" y="0" font-size="10.3">m</text><text x="17.5" y="2.6" font-size="4.6">v</text><text x="20.9" y="0" font-size="10.3">&gt;</text><text x="26.5" y="0" font-size="10.3">|</text><text x="31.9" y="0" font-size="10.3">[eV]</text></g>
</g>
</svg>
</body></html>
